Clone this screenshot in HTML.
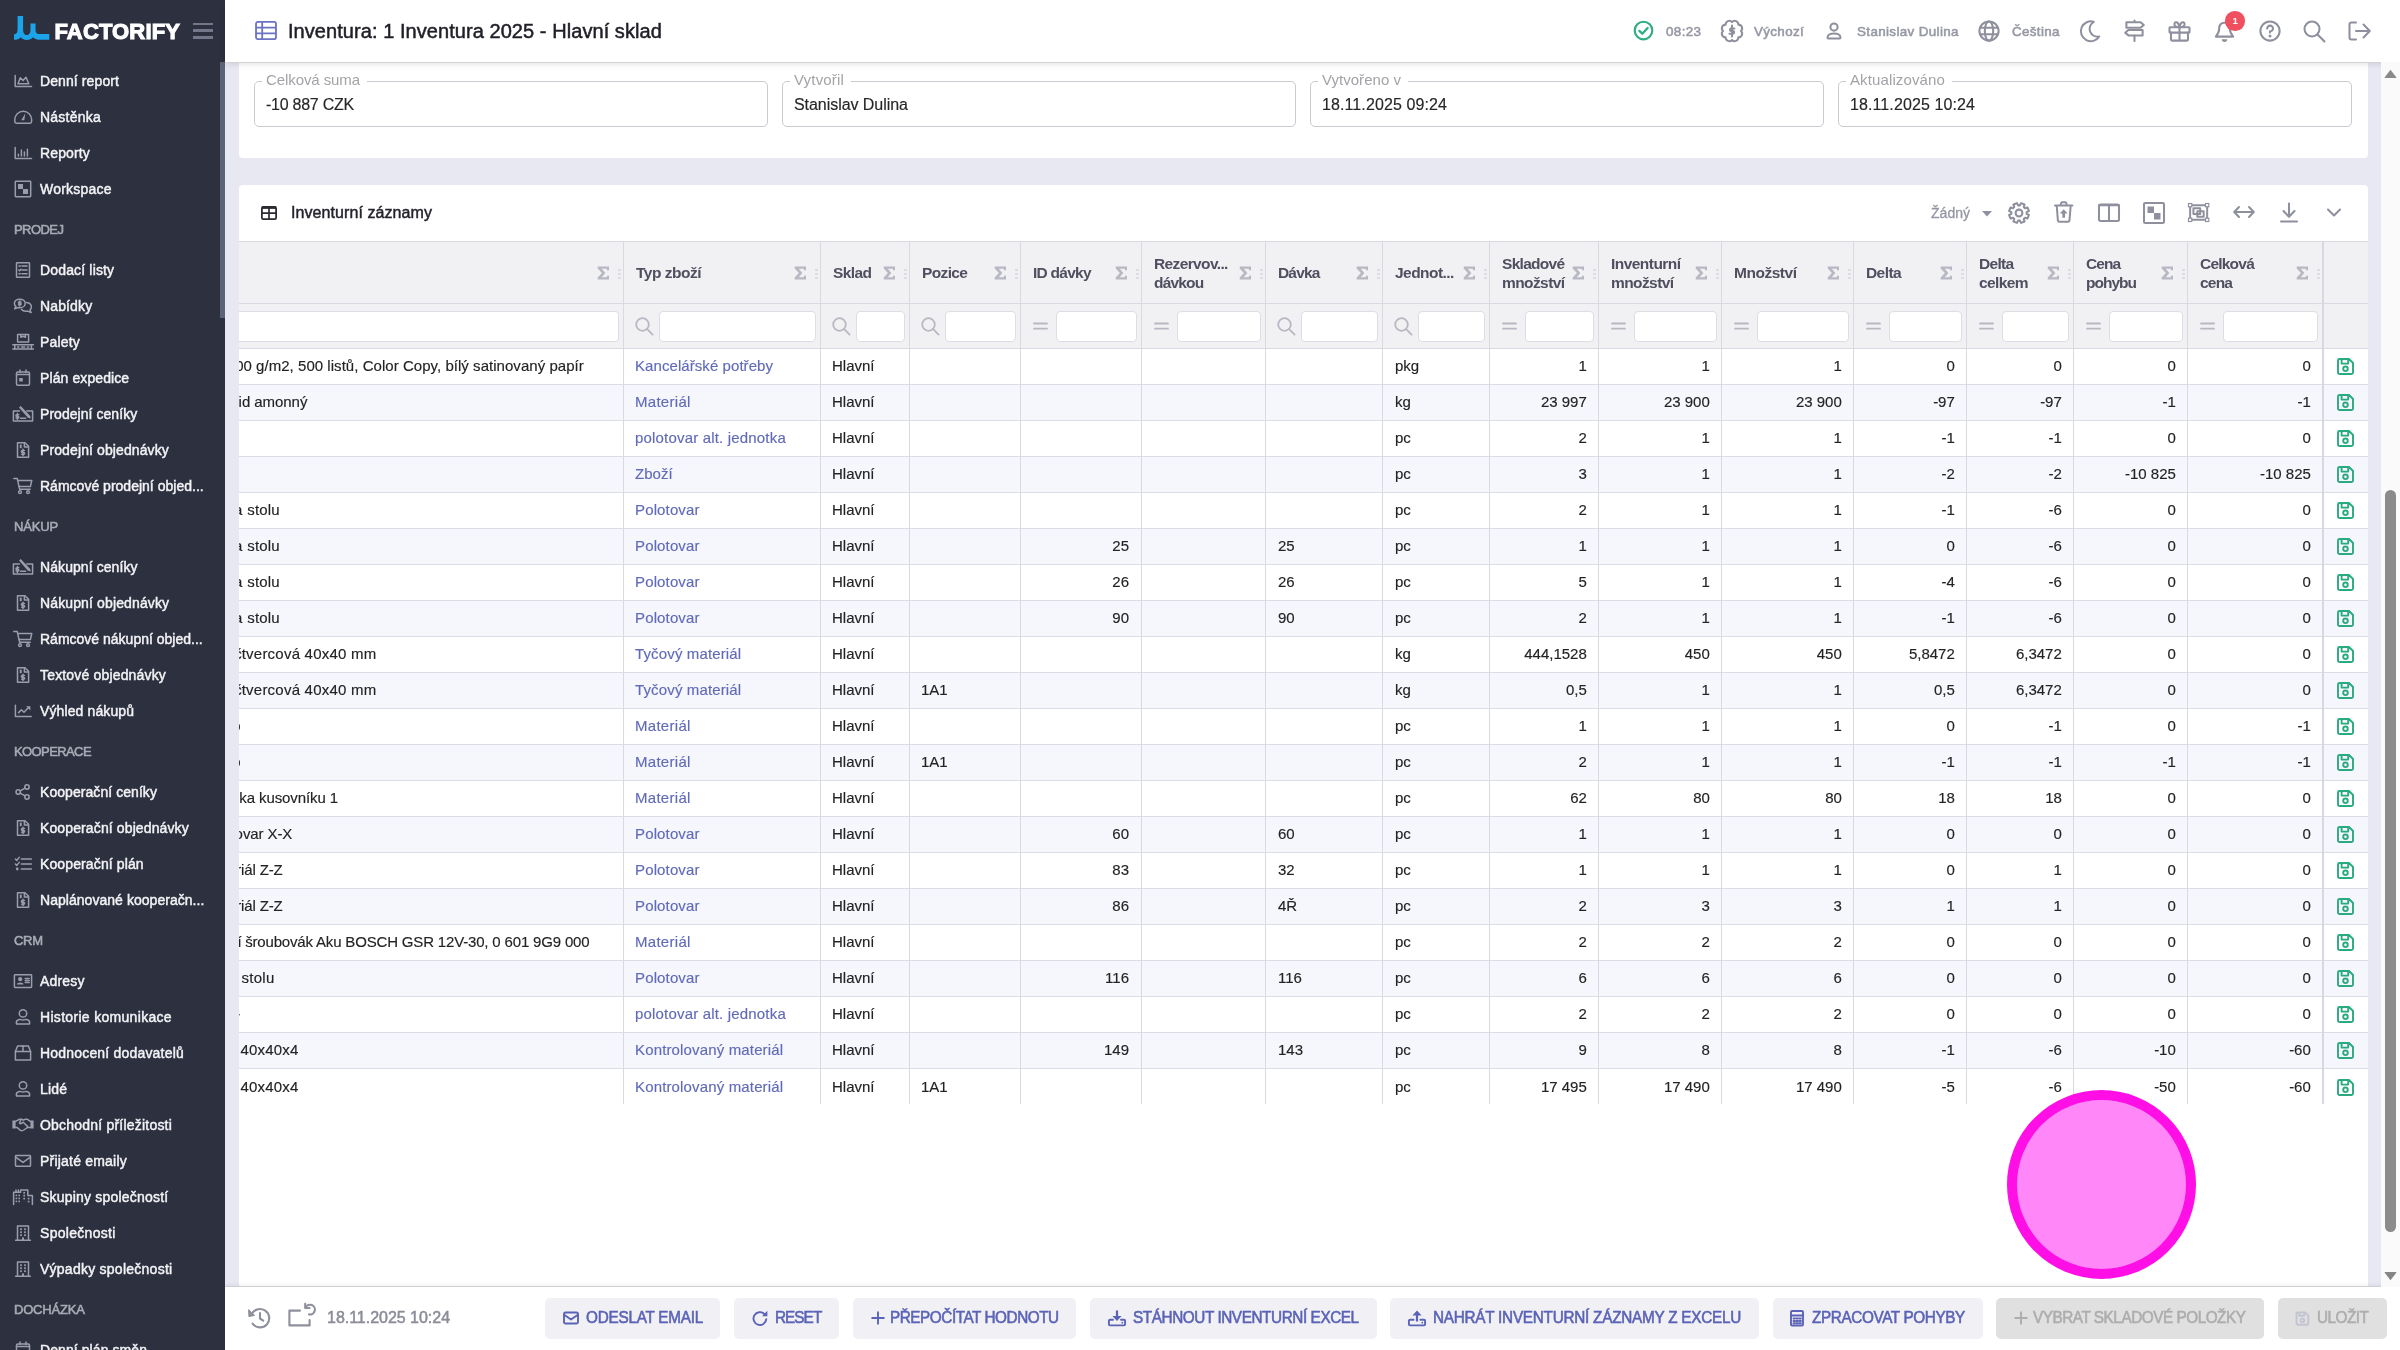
<!DOCTYPE html><html><head><meta charset="utf-8"><title>Inventura</title><style>
*{box-sizing:border-box;margin:0;padding:0}
html,body{width:2400px;height:1350px;overflow:hidden}
#w{position:absolute;left:0;top:0;width:2400px;height:1350px;will-change:transform;overflow:hidden}
body{position:relative;background:#e8e8f3;font-family:"Liberation Sans",sans-serif;color:#212121}
.a{position:absolute}
.t{position:absolute;white-space:nowrap;line-height:1}
svg{position:absolute;overflow:visible}
/* sidebar */
#sb{left:0;top:0;width:225px;height:1350px;background:#2c303f;overflow:hidden}
.si{font-size:14px;color:#f3f3f6;left:40px;-webkit-text-stroke:0.45px #f3f3f6}
.sh{font-size:13px;color:#a8aab5;left:14px;-webkit-text-stroke:0.55px #a8aab5}
.ic{stroke:#9b9dab;fill:none;stroke-width:1.5;stroke-linecap:round;stroke-linejoin:round}
/* top */
#top{left:225px;top:0;width:2175px;height:62px;background:#fff;box-shadow:0 1px 0 #d3d3d6,0 2px 6px rgba(0,0,0,.12)}
.tt{font-size:13.4px;color:#9698a4;-webkit-text-stroke:0.55px #9698a4}
.ti{stroke:#8e909e;fill:none;stroke-width:2.05;stroke-linecap:round;stroke-linejoin:round}
/* cards */
.card{background:#fff}
.fs{border:1px solid #c9c9cf;border-radius:5px;height:46px;top:81px;width:514px}
.fl{font-size:15px;color:#a3a3a8;top:72px}
.fv{font-size:16px;color:#262626;top:97px;-webkit-text-stroke:0.15px #262626}
/* table */
.hd{background:#f1f1f4}
.vl{background:#d9dae1;width:1px}
.hl{background:#dcdde4;height:1px}
.th{font-size:15.5px;color:#4f4f60;font-weight:700;letter-spacing:-0.35px;line-height:19px}
.td{font-size:15px;color:#232323;-webkit-text-stroke:0.15px #232323}
.lk{font-size:15px;color:#606ab9;-webkit-text-stroke:0.15px #606ab9}
.in{background:#fff;border:1px solid #dddde5;border-radius:4px;height:31px;top:311px}
.sg{fill:#b7b8c2}
.fi{stroke:#b7b8c2;fill:none;stroke-width:1.8;stroke-linecap:round}
/* footer */
#ft{left:225px;top:1286px;width:2175px;height:64px;background:#fff;border-top:1px solid #cfcfd4;box-shadow:0 -1px 4px rgba(0,0,0,.07)}
.bt{background:#f1f1f5;border-radius:5px;top:1298px;height:41px}
.bt.d{background:#e0e0e0}
.bl{font-size:17px;color:#5b63b7;-webkit-text-stroke:0.6px #5b63b7;top:1308.8px}
.bl.d{color:#adadad;-webkit-text-stroke:0.6px #adadad}
.bi{stroke:#5b63b7;fill:none;stroke-width:1.9;stroke-linecap:round;stroke-linejoin:round}
.bi.d{stroke:#adadad}
</style></head><body><div id="w">
<div class="a card" style="left:239px;top:62px;width:2129px;height:96px;border-radius:0 0 4px 4px"></div>
<div class="a card" style="left:239px;top:185px;width:2129px;height:1110px;border-radius:4px 4px 0 0"></div>
<div class="a fs" style="left:254px"></div>
<div class="a" style="left:262px;top:80px;width:105px;height:3px;background:#fff"></div>
<div class="t fl" style="letter-spacing:-0.09px;left:266px">Celková suma</div>
<div class="t fv" style="letter-spacing:-0.25px;left:266px">-10 887 CZK</div>
<div class="a fs" style="left:782px"></div>
<div class="a" style="left:790px;top:80px;width:61px;height:3px;background:#fff"></div>
<div class="t fl" style="letter-spacing:0.17px;left:794px">Vytvořil</div>
<div class="t fv" style="letter-spacing:-0.05px;left:794px">Stanislav Dulina</div>
<div class="a fs" style="left:1310px"></div>
<div class="a" style="left:1318px;top:80px;width:90px;height:3px;background:#fff"></div>
<div class="t fl" style="letter-spacing:0.03px;left:1322px">Vytvořeno v</div>
<div class="t fv" style="letter-spacing:0.10px;left:1322px">18.11.2025 09:24</div>
<div class="a fs" style="left:1838px"></div>
<div class="a" style="left:1846px;top:80px;width:106px;height:3px;background:#fff"></div>
<div class="t fl" style="letter-spacing:0.12px;left:1850px">Aktualizováno</div>
<div class="t fv" style="letter-spacing:0.10px;left:1850px">18.11.2025 10:24</div>
<svg style="left:261px;top:206px" width="16" height="14" viewBox="0 0 16 14"><rect x="0.9" y="0.9" width="14.2" height="12.2" rx="1.3" fill="none" stroke="#2b2b33" stroke-width="1.8"/><path d="M1 1.6H15" stroke="#2b2b33" stroke-width="2.6" fill="none"/><path d="M1 7.2H15M8 1V13" stroke="#2b2b33" stroke-width="1.7" fill="none"/></svg>
<div class="t" style="letter-spacing:0.08px;left:291px;top:205px;font-size:16px;color:#23232b;-webkit-text-stroke:0.45px #23232b">Inventurní záznamy</div>
<div class="a hd" style="left:239px;top:241px;width:2129px;height:107px"></div>
<div class="a" style="left:239px;top:385px;width:2129px;height:35px;background:#f6f7fc"></div>
<div class="a" style="left:239px;top:457px;width:2129px;height:35px;background:#f6f7fc"></div>
<div class="a" style="left:239px;top:529px;width:2129px;height:35px;background:#f6f7fc"></div>
<div class="a" style="left:239px;top:601px;width:2129px;height:35px;background:#f6f7fc"></div>
<div class="a" style="left:239px;top:673px;width:2129px;height:35px;background:#f6f7fc"></div>
<div class="a" style="left:239px;top:745px;width:2129px;height:35px;background:#f6f7fc"></div>
<div class="a" style="left:239px;top:817px;width:2129px;height:35px;background:#f6f7fc"></div>
<div class="a" style="left:239px;top:889px;width:2129px;height:35px;background:#f6f7fc"></div>
<div class="a" style="left:239px;top:961px;width:2129px;height:35px;background:#f6f7fc"></div>
<div class="a" style="left:239px;top:1033px;width:2129px;height:35px;background:#f6f7fc"></div>
<div class="a hl" style="left:239px;top:241px;width:2129px;background:#d9dae1"></div>
<div class="a hl" style="left:239px;top:303px;width:2129px;background:#d9dae1"></div>
<div class="a hl" style="left:239px;top:348px;width:2129px;background:#d9dae1"></div>
<div class="a hl" style="left:239px;top:384px;width:2129px"></div>
<div class="a hl" style="left:239px;top:420px;width:2129px"></div>
<div class="a hl" style="left:239px;top:456px;width:2129px"></div>
<div class="a hl" style="left:239px;top:492px;width:2129px"></div>
<div class="a hl" style="left:239px;top:528px;width:2129px"></div>
<div class="a hl" style="left:239px;top:564px;width:2129px"></div>
<div class="a hl" style="left:239px;top:600px;width:2129px"></div>
<div class="a hl" style="left:239px;top:636px;width:2129px"></div>
<div class="a hl" style="left:239px;top:672px;width:2129px"></div>
<div class="a hl" style="left:239px;top:708px;width:2129px"></div>
<div class="a hl" style="left:239px;top:744px;width:2129px"></div>
<div class="a hl" style="left:239px;top:780px;width:2129px"></div>
<div class="a hl" style="left:239px;top:816px;width:2129px"></div>
<div class="a hl" style="left:239px;top:852px;width:2129px"></div>
<div class="a hl" style="left:239px;top:888px;width:2129px"></div>
<div class="a hl" style="left:239px;top:924px;width:2129px"></div>
<div class="a hl" style="left:239px;top:960px;width:2129px"></div>
<div class="a hl" style="left:239px;top:996px;width:2129px"></div>
<div class="a hl" style="left:239px;top:1032px;width:2129px"></div>
<div class="a hl" style="left:239px;top:1068px;width:2129px"></div>
<div class="a vl" style="left:623px;top:242px;height:862px"></div>
<div class="a vl" style="left:820px;top:242px;height:862px"></div>
<div class="a vl" style="left:909px;top:242px;height:862px"></div>
<div class="a vl" style="left:1020px;top:242px;height:862px"></div>
<div class="a vl" style="left:1141px;top:242px;height:862px"></div>
<div class="a vl" style="left:1265px;top:242px;height:862px"></div>
<div class="a vl" style="left:1382px;top:242px;height:862px"></div>
<div class="a vl" style="left:1489px;top:242px;height:862px"></div>
<div class="a vl" style="left:1598px;top:242px;height:862px"></div>
<div class="a vl" style="left:1721px;top:242px;height:862px"></div>
<div class="a vl" style="left:1853px;top:242px;height:862px"></div>
<div class="a vl" style="left:1966px;top:242px;height:862px"></div>
<div class="a vl" style="left:2073px;top:242px;height:862px"></div>
<div class="a vl" style="left:2187px;top:242px;height:862px"></div>
<div class="a vl" style="left:2322px;top:242px;height:862px;width:2px;background:#d8d9e0"></div>
<svg style="left:597px;top:266px" width="13" height="14" viewBox="0 0 13 14"><path d="M0.7 0.4H12V4.2H9.9V2.7H4.7L8.4 7L4.7 11.3H9.9V9.8H12V13.6H0.7V11.6L4.9 7L0.7 2.4Z" fill="#b7b8c2"/></svg>
<div class="a" style="left:618px;top:269px;width:3px;height:2px;background:#dcdde3"></div>
<div class="a" style="left:618px;top:273px;width:3px;height:2px;background:#dcdde3"></div>
<div class="a" style="left:618px;top:277px;width:3px;height:2px;background:#dcdde3"></div>
<div class="a in" style="left:239px;width:380px;border-left:none;border-radius:0 4px 4px 0"></div>
<svg style="left:794px;top:266px" width="13" height="14" viewBox="0 0 13 14"><path d="M0.7 0.4H12V4.2H9.9V2.7H4.7L8.4 7L4.7 11.3H9.9V9.8H12V13.6H0.7V11.6L4.9 7L0.7 2.4Z" fill="#b7b8c2"/></svg>
<div class="a" style="left:815px;top:269px;width:3px;height:2px;background:#dcdde3"></div>
<div class="a" style="left:815px;top:273px;width:3px;height:2px;background:#dcdde3"></div>
<div class="a" style="left:815px;top:277px;width:3px;height:2px;background:#dcdde3"></div>
<div class="t th" style="letter-spacing:-0.50px;left:636px;top:262.5px">Typ zboží</div>
<svg style="left:635px;top:317px" width="19" height="19" viewBox="0 0 19 19"><circle class="fi" cx="7.5" cy="7.5" r="6.3"/><path class="fi" d="M12.2 12.2L17.6 17.6"/></svg>
<div class="a in" style="left:659px;width:157px"></div>
<svg style="left:883px;top:266px" width="13" height="14" viewBox="0 0 13 14"><path d="M0.7 0.4H12V4.2H9.9V2.7H4.7L8.4 7L4.7 11.3H9.9V9.8H12V13.6H0.7V11.6L4.9 7L0.7 2.4Z" fill="#b7b8c2"/></svg>
<div class="a" style="left:904px;top:269px;width:3px;height:2px;background:#dcdde3"></div>
<div class="a" style="left:904px;top:273px;width:3px;height:2px;background:#dcdde3"></div>
<div class="a" style="left:904px;top:277px;width:3px;height:2px;background:#dcdde3"></div>
<div class="t th" style="letter-spacing:-0.61px;left:833px;top:262.5px">Sklad</div>
<svg style="left:832px;top:317px" width="19" height="19" viewBox="0 0 19 19"><circle class="fi" cx="7.5" cy="7.5" r="6.3"/><path class="fi" d="M12.2 12.2L17.6 17.6"/></svg>
<div class="a in" style="left:856px;width:49px"></div>
<svg style="left:994px;top:266px" width="13" height="14" viewBox="0 0 13 14"><path d="M0.7 0.4H12V4.2H9.9V2.7H4.7L8.4 7L4.7 11.3H9.9V9.8H12V13.6H0.7V11.6L4.9 7L0.7 2.4Z" fill="#b7b8c2"/></svg>
<div class="a" style="left:1015px;top:269px;width:3px;height:2px;background:#dcdde3"></div>
<div class="a" style="left:1015px;top:273px;width:3px;height:2px;background:#dcdde3"></div>
<div class="a" style="left:1015px;top:277px;width:3px;height:2px;background:#dcdde3"></div>
<div class="t th" style="letter-spacing:-0.64px;left:922px;top:262.5px">Pozice</div>
<svg style="left:921px;top:317px" width="19" height="19" viewBox="0 0 19 19"><circle class="fi" cx="7.5" cy="7.5" r="6.3"/><path class="fi" d="M12.2 12.2L17.6 17.6"/></svg>
<div class="a in" style="left:945px;width:71px"></div>
<svg style="left:1115px;top:266px" width="13" height="14" viewBox="0 0 13 14"><path d="M0.7 0.4H12V4.2H9.9V2.7H4.7L8.4 7L4.7 11.3H9.9V9.8H12V13.6H0.7V11.6L4.9 7L0.7 2.4Z" fill="#b7b8c2"/></svg>
<div class="a" style="left:1136px;top:269px;width:3px;height:2px;background:#dcdde3"></div>
<div class="a" style="left:1136px;top:273px;width:3px;height:2px;background:#dcdde3"></div>
<div class="a" style="left:1136px;top:277px;width:3px;height:2px;background:#dcdde3"></div>
<div class="t th" style="letter-spacing:-0.75px;left:1033px;top:262.5px">ID dávky</div>
<svg style="left:1033px;top:320px" width="15" height="12" viewBox="0 0 15 12"><path class="fi" stroke-width="2" d="M1 3.5H14M1 8.7H14"/></svg>
<div class="a in" style="left:1056px;width:81px"></div>
<svg style="left:1239px;top:266px" width="13" height="14" viewBox="0 0 13 14"><path d="M0.7 0.4H12V4.2H9.9V2.7H4.7L8.4 7L4.7 11.3H9.9V9.8H12V13.6H0.7V11.6L4.9 7L0.7 2.4Z" fill="#b7b8c2"/></svg>
<div class="a" style="left:1260px;top:269px;width:3px;height:2px;background:#dcdde3"></div>
<div class="a" style="left:1260px;top:273px;width:3px;height:2px;background:#dcdde3"></div>
<div class="a" style="left:1260px;top:277px;width:3px;height:2px;background:#dcdde3"></div>
<div class="t th" style="letter-spacing:-0.63px;left:1154px;top:254.1px">Rezervov...</div>
<div class="t th" style="letter-spacing:-0.83px;left:1154px;top:273.1px">dávkou</div>
<svg style="left:1154px;top:320px" width="15" height="12" viewBox="0 0 15 12"><path class="fi" stroke-width="2" d="M1 3.5H14M1 8.7H14"/></svg>
<div class="a in" style="left:1177px;width:84px"></div>
<svg style="left:1356px;top:266px" width="13" height="14" viewBox="0 0 13 14"><path d="M0.7 0.4H12V4.2H9.9V2.7H4.7L8.4 7L4.7 11.3H9.9V9.8H12V13.6H0.7V11.6L4.9 7L0.7 2.4Z" fill="#b7b8c2"/></svg>
<div class="a" style="left:1377px;top:269px;width:3px;height:2px;background:#dcdde3"></div>
<div class="a" style="left:1377px;top:273px;width:3px;height:2px;background:#dcdde3"></div>
<div class="a" style="left:1377px;top:277px;width:3px;height:2px;background:#dcdde3"></div>
<div class="t th" style="letter-spacing:-0.84px;left:1278px;top:262.5px">Dávka</div>
<svg style="left:1277px;top:317px" width="19" height="19" viewBox="0 0 19 19"><circle class="fi" cx="7.5" cy="7.5" r="6.3"/><path class="fi" d="M12.2 12.2L17.6 17.6"/></svg>
<div class="a in" style="left:1301px;width:77px"></div>
<svg style="left:1463px;top:266px" width="13" height="14" viewBox="0 0 13 14"><path d="M0.7 0.4H12V4.2H9.9V2.7H4.7L8.4 7L4.7 11.3H9.9V9.8H12V13.6H0.7V11.6L4.9 7L0.7 2.4Z" fill="#b7b8c2"/></svg>
<div class="a" style="left:1484px;top:269px;width:3px;height:2px;background:#dcdde3"></div>
<div class="a" style="left:1484px;top:273px;width:3px;height:2px;background:#dcdde3"></div>
<div class="a" style="left:1484px;top:277px;width:3px;height:2px;background:#dcdde3"></div>
<div class="t th" style="letter-spacing:-0.55px;left:1395px;top:262.5px">Jednot...</div>
<svg style="left:1394px;top:317px" width="19" height="19" viewBox="0 0 19 19"><circle class="fi" cx="7.5" cy="7.5" r="6.3"/><path class="fi" d="M12.2 12.2L17.6 17.6"/></svg>
<div class="a in" style="left:1418px;width:67px"></div>
<svg style="left:1572px;top:266px" width="13" height="14" viewBox="0 0 13 14"><path d="M0.7 0.4H12V4.2H9.9V2.7H4.7L8.4 7L4.7 11.3H9.9V9.8H12V13.6H0.7V11.6L4.9 7L0.7 2.4Z" fill="#b7b8c2"/></svg>
<div class="a" style="left:1593px;top:269px;width:3px;height:2px;background:#dcdde3"></div>
<div class="a" style="left:1593px;top:273px;width:3px;height:2px;background:#dcdde3"></div>
<div class="a" style="left:1593px;top:277px;width:3px;height:2px;background:#dcdde3"></div>
<div class="t th" style="letter-spacing:-0.70px;left:1502px;top:254.1px">Skladové</div>
<div class="t th" style="letter-spacing:-0.59px;left:1502px;top:273.1px">množství</div>
<svg style="left:1502px;top:320px" width="15" height="12" viewBox="0 0 15 12"><path class="fi" stroke-width="2" d="M1 3.5H14M1 8.7H14"/></svg>
<div class="a in" style="left:1525px;width:69px"></div>
<svg style="left:1695px;top:266px" width="13" height="14" viewBox="0 0 13 14"><path d="M0.7 0.4H12V4.2H9.9V2.7H4.7L8.4 7L4.7 11.3H9.9V9.8H12V13.6H0.7V11.6L4.9 7L0.7 2.4Z" fill="#b7b8c2"/></svg>
<div class="a" style="left:1716px;top:269px;width:3px;height:2px;background:#dcdde3"></div>
<div class="a" style="left:1716px;top:273px;width:3px;height:2px;background:#dcdde3"></div>
<div class="a" style="left:1716px;top:277px;width:3px;height:2px;background:#dcdde3"></div>
<div class="t th" style="letter-spacing:-0.54px;left:1611px;top:254.1px">Inventurní</div>
<div class="t th" style="letter-spacing:-0.59px;left:1611px;top:273.1px">množství</div>
<svg style="left:1611px;top:320px" width="15" height="12" viewBox="0 0 15 12"><path class="fi" stroke-width="2" d="M1 3.5H14M1 8.7H14"/></svg>
<div class="a in" style="left:1634px;width:83px"></div>
<svg style="left:1827px;top:266px" width="13" height="14" viewBox="0 0 13 14"><path d="M0.7 0.4H12V4.2H9.9V2.7H4.7L8.4 7L4.7 11.3H9.9V9.8H12V13.6H0.7V11.6L4.9 7L0.7 2.4Z" fill="#b7b8c2"/></svg>
<div class="a" style="left:1848px;top:269px;width:3px;height:2px;background:#dcdde3"></div>
<div class="a" style="left:1848px;top:273px;width:3px;height:2px;background:#dcdde3"></div>
<div class="a" style="left:1848px;top:277px;width:3px;height:2px;background:#dcdde3"></div>
<div class="t th" style="letter-spacing:-0.48px;left:1734px;top:262.5px">Množství</div>
<svg style="left:1734px;top:320px" width="15" height="12" viewBox="0 0 15 12"><path class="fi" stroke-width="2" d="M1 3.5H14M1 8.7H14"/></svg>
<div class="a in" style="left:1757px;width:92px"></div>
<svg style="left:1940px;top:266px" width="13" height="14" viewBox="0 0 13 14"><path d="M0.7 0.4H12V4.2H9.9V2.7H4.7L8.4 7L4.7 11.3H9.9V9.8H12V13.6H0.7V11.6L4.9 7L0.7 2.4Z" fill="#b7b8c2"/></svg>
<div class="a" style="left:1961px;top:269px;width:3px;height:2px;background:#dcdde3"></div>
<div class="a" style="left:1961px;top:273px;width:3px;height:2px;background:#dcdde3"></div>
<div class="a" style="left:1961px;top:277px;width:3px;height:2px;background:#dcdde3"></div>
<div class="t th" style="letter-spacing:-0.58px;left:1866px;top:262.5px">Delta</div>
<svg style="left:1866px;top:320px" width="15" height="12" viewBox="0 0 15 12"><path class="fi" stroke-width="2" d="M1 3.5H14M1 8.7H14"/></svg>
<div class="a in" style="left:1889px;width:73px"></div>
<svg style="left:2047px;top:266px" width="13" height="14" viewBox="0 0 13 14"><path d="M0.7 0.4H12V4.2H9.9V2.7H4.7L8.4 7L4.7 11.3H9.9V9.8H12V13.6H0.7V11.6L4.9 7L0.7 2.4Z" fill="#b7b8c2"/></svg>
<div class="a" style="left:2068px;top:269px;width:3px;height:2px;background:#dcdde3"></div>
<div class="a" style="left:2068px;top:273px;width:3px;height:2px;background:#dcdde3"></div>
<div class="a" style="left:2068px;top:277px;width:3px;height:2px;background:#dcdde3"></div>
<div class="t th" style="letter-spacing:-0.68px;left:1979px;top:254.1px">Delta</div>
<div class="t th" style="letter-spacing:-0.60px;left:1979px;top:273.1px">celkem</div>
<svg style="left:1979px;top:320px" width="15" height="12" viewBox="0 0 15 12"><path class="fi" stroke-width="2" d="M1 3.5H14M1 8.7H14"/></svg>
<div class="a in" style="left:2002px;width:67px"></div>
<svg style="left:2161px;top:266px" width="13" height="14" viewBox="0 0 13 14"><path d="M0.7 0.4H12V4.2H9.9V2.7H4.7L8.4 7L4.7 11.3H9.9V9.8H12V13.6H0.7V11.6L4.9 7L0.7 2.4Z" fill="#b7b8c2"/></svg>
<div class="a" style="left:2182px;top:269px;width:3px;height:2px;background:#dcdde3"></div>
<div class="a" style="left:2182px;top:273px;width:3px;height:2px;background:#dcdde3"></div>
<div class="a" style="left:2182px;top:277px;width:3px;height:2px;background:#dcdde3"></div>
<div class="t th" style="letter-spacing:-0.93px;left:2086px;top:254.1px">Cena</div>
<div class="t th" style="letter-spacing:-1.00px;left:2086px;top:273.1px">pohybu</div>
<svg style="left:2086px;top:320px" width="15" height="12" viewBox="0 0 15 12"><path class="fi" stroke-width="2" d="M1 3.5H14M1 8.7H14"/></svg>
<div class="a in" style="left:2109px;width:74px"></div>
<svg style="left:2296px;top:266px" width="13" height="14" viewBox="0 0 13 14"><path d="M0.7 0.4H12V4.2H9.9V2.7H4.7L8.4 7L4.7 11.3H9.9V9.8H12V13.6H0.7V11.6L4.9 7L0.7 2.4Z" fill="#b7b8c2"/></svg>
<div class="a" style="left:2317px;top:269px;width:3px;height:2px;background:#dcdde3"></div>
<div class="a" style="left:2317px;top:273px;width:3px;height:2px;background:#dcdde3"></div>
<div class="a" style="left:2317px;top:277px;width:3px;height:2px;background:#dcdde3"></div>
<div class="t th" style="letter-spacing:-0.78px;left:2200px;top:254.1px">Celková</div>
<div class="t th" style="letter-spacing:-0.78px;left:2200px;top:273.1px">cena</div>
<svg style="left:2200px;top:320px" width="15" height="12" viewBox="0 0 15 12"><path class="fi" stroke-width="2" d="M1 3.5H14M1 8.7H14"/></svg>
<div class="a in" style="left:2223px;width:95px"></div>
<div class="a" style="left:239px;top:349px;width:384px;height:760px;overflow:hidden">
<div class="t td" style="right:379.5px;top:9px">0</div>
<div class="t td" style="letter-spacing:0.04px;left:4.5px;top:9px">0 g/m2, 500 listů, Color Copy, bílý satinovaný papír</div>
<div class="t td" style="letter-spacing:-0.05px;left:-0.4000000000000057px;top:45px">id amonný</div>
<div class="t td" style="right:380.7px;top:153px">a</div>
<div class="t td" style="letter-spacing:0.18px;left:8.300000000000011px;top:153px">stolu</div>
<div class="t td" style="right:380.7px;top:189px">a</div>
<div class="t td" style="letter-spacing:0.18px;left:8.300000000000011px;top:189px">stolu</div>
<div class="t td" style="right:380.7px;top:225px">a</div>
<div class="t td" style="letter-spacing:0.18px;left:8.300000000000011px;top:225px">stolu</div>
<div class="t td" style="right:380.7px;top:261px">a</div>
<div class="t td" style="letter-spacing:0.18px;left:8.300000000000011px;top:261px">stolu</div>
<div class="t td" style="right:381.3px;top:297px">č</div>
<div class="t td" style="letter-spacing:0.23px;left:2.6999999999999886px;top:297px">tvercová 40x40 mm</div>
<div class="t td" style="right:381.3px;top:333px">č</div>
<div class="t td" style="letter-spacing:0.23px;left:2.6999999999999886px;top:333px">tvercová 40x40 mm</div>
<div class="t td" style="right:382.5px;top:369px">o</div>
<div class="t td" style="right:382.5px;top:405px">o</div>
<div class="t td" style="letter-spacing:-0.10px;left:0.30000000000001137px;top:441px">ka kusovníku 1</div>
<div class="t td" style="right:380.1px;top:477px">o</div>
<div class="t td" style="letter-spacing:-0.10px;left:3.9000000000000057px;top:477px">var X-X</div>
<div class="t td" style="right:381.7px;top:513px">r</div>
<div class="t td" style="letter-spacing:-0.16px;left:2.0999999999999943px;top:513px">iál Z-Z</div>
<div class="t td" style="right:381.7px;top:549px">r</div>
<div class="t td" style="letter-spacing:-0.16px;left:2.0999999999999943px;top:549px">iál Z-Z</div>
<div class="t td" style="right:381.4px;top:585px">í</div>
<div class="t td" style="letter-spacing:-0.17px;left:6.199999999999989px;top:585px">šroubovák Aku BOSCH GSR 12V-30, 0 601 9G9 000</div>
<div class="t td" style="letter-spacing:0.30px;left:2.4000000000000057px;top:621px">stolu</div>
<div class="t td" style="right:382.8px;top:657px">-</div>
<div class="t td" style="letter-spacing:0.20px;left:1.4000000000000057px;top:693px">40x40x4</div>
<div class="t td" style="letter-spacing:0.20px;left:1.4000000000000057px;top:730px">40x40x4</div>
</div>
<div class="t lk" style="letter-spacing:0.07px;left:635px;top:358px">Kancelářské potřeby</div>
<div class="t td" style="left:832px;top:358px">Hlavní</div>
<div class="t td" style="left:1395px;top:358px">pkg</div>
<div class="t td" style="right:813.2px;top:358px">1</div>
<div class="t td" style="right:690.2px;top:358px">1</div>
<div class="t td" style="right:558.2px;top:358px">1</div>
<div class="t td" style="right:445.20000000000005px;top:358px">0</div>
<div class="t td" style="right:338.1999999999998px;top:358px">0</div>
<div class="t td" style="right:224.19999999999982px;top:358px">0</div>
<div class="t td" style="right:89.19999999999982px;top:358px">0</div>
<svg style="left:2337px;top:358px" width="17" height="17" viewBox="0 0 17 17"><path d="M1 2.5A1.5 1.5 0 0 1 2.5 1H12L16 5V14.5A1.5 1.5 0 0 1 14.5 16H2.5A1.5 1.5 0 0 1 1 14.5Z M4.6 1V5.6H11.2V1" fill="none" stroke="#2ba97f" stroke-width="1.9" stroke-linejoin="round"/><circle cx="8.5" cy="10.8" r="2.3" fill="none" stroke="#2ba97f" stroke-width="1.9"/></svg>
<div class="t lk" style="letter-spacing:0.29px;left:635px;top:394px">Materiál</div>
<div class="t td" style="left:832px;top:394px">Hlavní</div>
<div class="t td" style="left:1395px;top:394px">kg</div>
<div class="t td" style="right:813.2px;top:394px">23 997</div>
<div class="t td" style="right:690.2px;top:394px">23 900</div>
<div class="t td" style="right:558.2px;top:394px">23 900</div>
<div class="t td" style="right:445.20000000000005px;top:394px">-97</div>
<div class="t td" style="right:338.1999999999998px;top:394px">-97</div>
<div class="t td" style="right:224.19999999999982px;top:394px">-1</div>
<div class="t td" style="right:89.19999999999982px;top:394px">-1</div>
<svg style="left:2337px;top:394px" width="17" height="17" viewBox="0 0 17 17"><path d="M1 2.5A1.5 1.5 0 0 1 2.5 1H12L16 5V14.5A1.5 1.5 0 0 1 14.5 16H2.5A1.5 1.5 0 0 1 1 14.5Z M4.6 1V5.6H11.2V1" fill="none" stroke="#2ba97f" stroke-width="1.9" stroke-linejoin="round"/><circle cx="8.5" cy="10.8" r="2.3" fill="none" stroke="#2ba97f" stroke-width="1.9"/></svg>
<div class="t lk" style="letter-spacing:0.18px;left:635px;top:430px">polotovar alt. jednotka</div>
<div class="t td" style="left:832px;top:430px">Hlavní</div>
<div class="t td" style="left:1395px;top:430px">pc</div>
<div class="t td" style="right:813.2px;top:430px">2</div>
<div class="t td" style="right:690.2px;top:430px">1</div>
<div class="t td" style="right:558.2px;top:430px">1</div>
<div class="t td" style="right:445.20000000000005px;top:430px">-1</div>
<div class="t td" style="right:338.1999999999998px;top:430px">-1</div>
<div class="t td" style="right:224.19999999999982px;top:430px">0</div>
<div class="t td" style="right:89.19999999999982px;top:430px">0</div>
<svg style="left:2337px;top:430px" width="17" height="17" viewBox="0 0 17 17"><path d="M1 2.5A1.5 1.5 0 0 1 2.5 1H12L16 5V14.5A1.5 1.5 0 0 1 14.5 16H2.5A1.5 1.5 0 0 1 1 14.5Z M4.6 1V5.6H11.2V1" fill="none" stroke="#2ba97f" stroke-width="1.9" stroke-linejoin="round"/><circle cx="8.5" cy="10.8" r="2.3" fill="none" stroke="#2ba97f" stroke-width="1.9"/></svg>
<div class="t lk" style="letter-spacing:0.02px;left:635px;top:466px">Zboží</div>
<div class="t td" style="left:832px;top:466px">Hlavní</div>
<div class="t td" style="left:1395px;top:466px">pc</div>
<div class="t td" style="right:813.2px;top:466px">3</div>
<div class="t td" style="right:690.2px;top:466px">1</div>
<div class="t td" style="right:558.2px;top:466px">1</div>
<div class="t td" style="right:445.20000000000005px;top:466px">-2</div>
<div class="t td" style="right:338.1999999999998px;top:466px">-2</div>
<div class="t td" style="right:224.19999999999982px;top:466px">-10 825</div>
<div class="t td" style="right:89.19999999999982px;top:466px">-10 825</div>
<svg style="left:2337px;top:466px" width="17" height="17" viewBox="0 0 17 17"><path d="M1 2.5A1.5 1.5 0 0 1 2.5 1H12L16 5V14.5A1.5 1.5 0 0 1 14.5 16H2.5A1.5 1.5 0 0 1 1 14.5Z M4.6 1V5.6H11.2V1" fill="none" stroke="#2ba97f" stroke-width="1.9" stroke-linejoin="round"/><circle cx="8.5" cy="10.8" r="2.3" fill="none" stroke="#2ba97f" stroke-width="1.9"/></svg>
<div class="t lk" style="letter-spacing:0.14px;left:635px;top:502px">Polotovar</div>
<div class="t td" style="left:832px;top:502px">Hlavní</div>
<div class="t td" style="left:1395px;top:502px">pc</div>
<div class="t td" style="right:813.2px;top:502px">2</div>
<div class="t td" style="right:690.2px;top:502px">1</div>
<div class="t td" style="right:558.2px;top:502px">1</div>
<div class="t td" style="right:445.20000000000005px;top:502px">-1</div>
<div class="t td" style="right:338.1999999999998px;top:502px">-6</div>
<div class="t td" style="right:224.19999999999982px;top:502px">0</div>
<div class="t td" style="right:89.19999999999982px;top:502px">0</div>
<svg style="left:2337px;top:502px" width="17" height="17" viewBox="0 0 17 17"><path d="M1 2.5A1.5 1.5 0 0 1 2.5 1H12L16 5V14.5A1.5 1.5 0 0 1 14.5 16H2.5A1.5 1.5 0 0 1 1 14.5Z M4.6 1V5.6H11.2V1" fill="none" stroke="#2ba97f" stroke-width="1.9" stroke-linejoin="round"/><circle cx="8.5" cy="10.8" r="2.3" fill="none" stroke="#2ba97f" stroke-width="1.9"/></svg>
<div class="t lk" style="letter-spacing:0.14px;left:635px;top:538px">Polotovar</div>
<div class="t td" style="left:832px;top:538px">Hlavní</div>
<div class="t td" style="right:1271px;top:538px">25</div>
<div class="t td" style="left:1278px;top:538px">25</div>
<div class="t td" style="left:1395px;top:538px">pc</div>
<div class="t td" style="right:813.2px;top:538px">1</div>
<div class="t td" style="right:690.2px;top:538px">1</div>
<div class="t td" style="right:558.2px;top:538px">1</div>
<div class="t td" style="right:445.20000000000005px;top:538px">0</div>
<div class="t td" style="right:338.1999999999998px;top:538px">-6</div>
<div class="t td" style="right:224.19999999999982px;top:538px">0</div>
<div class="t td" style="right:89.19999999999982px;top:538px">0</div>
<svg style="left:2337px;top:538px" width="17" height="17" viewBox="0 0 17 17"><path d="M1 2.5A1.5 1.5 0 0 1 2.5 1H12L16 5V14.5A1.5 1.5 0 0 1 14.5 16H2.5A1.5 1.5 0 0 1 1 14.5Z M4.6 1V5.6H11.2V1" fill="none" stroke="#2ba97f" stroke-width="1.9" stroke-linejoin="round"/><circle cx="8.5" cy="10.8" r="2.3" fill="none" stroke="#2ba97f" stroke-width="1.9"/></svg>
<div class="t lk" style="letter-spacing:0.14px;left:635px;top:574px">Polotovar</div>
<div class="t td" style="left:832px;top:574px">Hlavní</div>
<div class="t td" style="right:1271px;top:574px">26</div>
<div class="t td" style="left:1278px;top:574px">26</div>
<div class="t td" style="left:1395px;top:574px">pc</div>
<div class="t td" style="right:813.2px;top:574px">5</div>
<div class="t td" style="right:690.2px;top:574px">1</div>
<div class="t td" style="right:558.2px;top:574px">1</div>
<div class="t td" style="right:445.20000000000005px;top:574px">-4</div>
<div class="t td" style="right:338.1999999999998px;top:574px">-6</div>
<div class="t td" style="right:224.19999999999982px;top:574px">0</div>
<div class="t td" style="right:89.19999999999982px;top:574px">0</div>
<svg style="left:2337px;top:574px" width="17" height="17" viewBox="0 0 17 17"><path d="M1 2.5A1.5 1.5 0 0 1 2.5 1H12L16 5V14.5A1.5 1.5 0 0 1 14.5 16H2.5A1.5 1.5 0 0 1 1 14.5Z M4.6 1V5.6H11.2V1" fill="none" stroke="#2ba97f" stroke-width="1.9" stroke-linejoin="round"/><circle cx="8.5" cy="10.8" r="2.3" fill="none" stroke="#2ba97f" stroke-width="1.9"/></svg>
<div class="t lk" style="letter-spacing:0.14px;left:635px;top:610px">Polotovar</div>
<div class="t td" style="left:832px;top:610px">Hlavní</div>
<div class="t td" style="right:1271px;top:610px">90</div>
<div class="t td" style="left:1278px;top:610px">90</div>
<div class="t td" style="left:1395px;top:610px">pc</div>
<div class="t td" style="right:813.2px;top:610px">2</div>
<div class="t td" style="right:690.2px;top:610px">1</div>
<div class="t td" style="right:558.2px;top:610px">1</div>
<div class="t td" style="right:445.20000000000005px;top:610px">-1</div>
<div class="t td" style="right:338.1999999999998px;top:610px">-6</div>
<div class="t td" style="right:224.19999999999982px;top:610px">0</div>
<div class="t td" style="right:89.19999999999982px;top:610px">0</div>
<svg style="left:2337px;top:610px" width="17" height="17" viewBox="0 0 17 17"><path d="M1 2.5A1.5 1.5 0 0 1 2.5 1H12L16 5V14.5A1.5 1.5 0 0 1 14.5 16H2.5A1.5 1.5 0 0 1 1 14.5Z M4.6 1V5.6H11.2V1" fill="none" stroke="#2ba97f" stroke-width="1.9" stroke-linejoin="round"/><circle cx="8.5" cy="10.8" r="2.3" fill="none" stroke="#2ba97f" stroke-width="1.9"/></svg>
<div class="t lk" style="letter-spacing:0.14px;left:635px;top:646px">Tyčový materiál</div>
<div class="t td" style="left:832px;top:646px">Hlavní</div>
<div class="t td" style="left:1395px;top:646px">kg</div>
<div class="t td" style="right:813.2px;top:646px">444,1528</div>
<div class="t td" style="right:690.2px;top:646px">450</div>
<div class="t td" style="right:558.2px;top:646px">450</div>
<div class="t td" style="right:445.20000000000005px;top:646px">5,8472</div>
<div class="t td" style="right:338.1999999999998px;top:646px">6,3472</div>
<div class="t td" style="right:224.19999999999982px;top:646px">0</div>
<div class="t td" style="right:89.19999999999982px;top:646px">0</div>
<svg style="left:2337px;top:646px" width="17" height="17" viewBox="0 0 17 17"><path d="M1 2.5A1.5 1.5 0 0 1 2.5 1H12L16 5V14.5A1.5 1.5 0 0 1 14.5 16H2.5A1.5 1.5 0 0 1 1 14.5Z M4.6 1V5.6H11.2V1" fill="none" stroke="#2ba97f" stroke-width="1.9" stroke-linejoin="round"/><circle cx="8.5" cy="10.8" r="2.3" fill="none" stroke="#2ba97f" stroke-width="1.9"/></svg>
<div class="t lk" style="letter-spacing:0.14px;left:635px;top:682px">Tyčový materiál</div>
<div class="t td" style="left:832px;top:682px">Hlavní</div>
<div class="t td" style="left:921px;top:682px">1A1</div>
<div class="t td" style="left:1395px;top:682px">kg</div>
<div class="t td" style="right:813.2px;top:682px">0,5</div>
<div class="t td" style="right:690.2px;top:682px">1</div>
<div class="t td" style="right:558.2px;top:682px">1</div>
<div class="t td" style="right:445.20000000000005px;top:682px">0,5</div>
<div class="t td" style="right:338.1999999999998px;top:682px">6,3472</div>
<div class="t td" style="right:224.19999999999982px;top:682px">0</div>
<div class="t td" style="right:89.19999999999982px;top:682px">0</div>
<svg style="left:2337px;top:682px" width="17" height="17" viewBox="0 0 17 17"><path d="M1 2.5A1.5 1.5 0 0 1 2.5 1H12L16 5V14.5A1.5 1.5 0 0 1 14.5 16H2.5A1.5 1.5 0 0 1 1 14.5Z M4.6 1V5.6H11.2V1" fill="none" stroke="#2ba97f" stroke-width="1.9" stroke-linejoin="round"/><circle cx="8.5" cy="10.8" r="2.3" fill="none" stroke="#2ba97f" stroke-width="1.9"/></svg>
<div class="t lk" style="letter-spacing:0.29px;left:635px;top:718px">Materiál</div>
<div class="t td" style="left:832px;top:718px">Hlavní</div>
<div class="t td" style="left:1395px;top:718px">pc</div>
<div class="t td" style="right:813.2px;top:718px">1</div>
<div class="t td" style="right:690.2px;top:718px">1</div>
<div class="t td" style="right:558.2px;top:718px">1</div>
<div class="t td" style="right:445.20000000000005px;top:718px">0</div>
<div class="t td" style="right:338.1999999999998px;top:718px">-1</div>
<div class="t td" style="right:224.19999999999982px;top:718px">0</div>
<div class="t td" style="right:89.19999999999982px;top:718px">-1</div>
<svg style="left:2337px;top:718px" width="17" height="17" viewBox="0 0 17 17"><path d="M1 2.5A1.5 1.5 0 0 1 2.5 1H12L16 5V14.5A1.5 1.5 0 0 1 14.5 16H2.5A1.5 1.5 0 0 1 1 14.5Z M4.6 1V5.6H11.2V1" fill="none" stroke="#2ba97f" stroke-width="1.9" stroke-linejoin="round"/><circle cx="8.5" cy="10.8" r="2.3" fill="none" stroke="#2ba97f" stroke-width="1.9"/></svg>
<div class="t lk" style="letter-spacing:0.29px;left:635px;top:754px">Materiál</div>
<div class="t td" style="left:832px;top:754px">Hlavní</div>
<div class="t td" style="left:921px;top:754px">1A1</div>
<div class="t td" style="left:1395px;top:754px">pc</div>
<div class="t td" style="right:813.2px;top:754px">2</div>
<div class="t td" style="right:690.2px;top:754px">1</div>
<div class="t td" style="right:558.2px;top:754px">1</div>
<div class="t td" style="right:445.20000000000005px;top:754px">-1</div>
<div class="t td" style="right:338.1999999999998px;top:754px">-1</div>
<div class="t td" style="right:224.19999999999982px;top:754px">-1</div>
<div class="t td" style="right:89.19999999999982px;top:754px">-1</div>
<svg style="left:2337px;top:754px" width="17" height="17" viewBox="0 0 17 17"><path d="M1 2.5A1.5 1.5 0 0 1 2.5 1H12L16 5V14.5A1.5 1.5 0 0 1 14.5 16H2.5A1.5 1.5 0 0 1 1 14.5Z M4.6 1V5.6H11.2V1" fill="none" stroke="#2ba97f" stroke-width="1.9" stroke-linejoin="round"/><circle cx="8.5" cy="10.8" r="2.3" fill="none" stroke="#2ba97f" stroke-width="1.9"/></svg>
<div class="t lk" style="letter-spacing:0.29px;left:635px;top:790px">Materiál</div>
<div class="t td" style="left:832px;top:790px">Hlavní</div>
<div class="t td" style="left:1395px;top:790px">pc</div>
<div class="t td" style="right:813.2px;top:790px">62</div>
<div class="t td" style="right:690.2px;top:790px">80</div>
<div class="t td" style="right:558.2px;top:790px">80</div>
<div class="t td" style="right:445.20000000000005px;top:790px">18</div>
<div class="t td" style="right:338.1999999999998px;top:790px">18</div>
<div class="t td" style="right:224.19999999999982px;top:790px">0</div>
<div class="t td" style="right:89.19999999999982px;top:790px">0</div>
<svg style="left:2337px;top:790px" width="17" height="17" viewBox="0 0 17 17"><path d="M1 2.5A1.5 1.5 0 0 1 2.5 1H12L16 5V14.5A1.5 1.5 0 0 1 14.5 16H2.5A1.5 1.5 0 0 1 1 14.5Z M4.6 1V5.6H11.2V1" fill="none" stroke="#2ba97f" stroke-width="1.9" stroke-linejoin="round"/><circle cx="8.5" cy="10.8" r="2.3" fill="none" stroke="#2ba97f" stroke-width="1.9"/></svg>
<div class="t lk" style="letter-spacing:0.14px;left:635px;top:826px">Polotovar</div>
<div class="t td" style="left:832px;top:826px">Hlavní</div>
<div class="t td" style="right:1271px;top:826px">60</div>
<div class="t td" style="left:1278px;top:826px">60</div>
<div class="t td" style="left:1395px;top:826px">pc</div>
<div class="t td" style="right:813.2px;top:826px">1</div>
<div class="t td" style="right:690.2px;top:826px">1</div>
<div class="t td" style="right:558.2px;top:826px">1</div>
<div class="t td" style="right:445.20000000000005px;top:826px">0</div>
<div class="t td" style="right:338.1999999999998px;top:826px">0</div>
<div class="t td" style="right:224.19999999999982px;top:826px">0</div>
<div class="t td" style="right:89.19999999999982px;top:826px">0</div>
<svg style="left:2337px;top:826px" width="17" height="17" viewBox="0 0 17 17"><path d="M1 2.5A1.5 1.5 0 0 1 2.5 1H12L16 5V14.5A1.5 1.5 0 0 1 14.5 16H2.5A1.5 1.5 0 0 1 1 14.5Z M4.6 1V5.6H11.2V1" fill="none" stroke="#2ba97f" stroke-width="1.9" stroke-linejoin="round"/><circle cx="8.5" cy="10.8" r="2.3" fill="none" stroke="#2ba97f" stroke-width="1.9"/></svg>
<div class="t lk" style="letter-spacing:0.14px;left:635px;top:862px">Polotovar</div>
<div class="t td" style="left:832px;top:862px">Hlavní</div>
<div class="t td" style="right:1271px;top:862px">83</div>
<div class="t td" style="left:1278px;top:862px">32</div>
<div class="t td" style="left:1395px;top:862px">pc</div>
<div class="t td" style="right:813.2px;top:862px">1</div>
<div class="t td" style="right:690.2px;top:862px">1</div>
<div class="t td" style="right:558.2px;top:862px">1</div>
<div class="t td" style="right:445.20000000000005px;top:862px">0</div>
<div class="t td" style="right:338.1999999999998px;top:862px">1</div>
<div class="t td" style="right:224.19999999999982px;top:862px">0</div>
<div class="t td" style="right:89.19999999999982px;top:862px">0</div>
<svg style="left:2337px;top:862px" width="17" height="17" viewBox="0 0 17 17"><path d="M1 2.5A1.5 1.5 0 0 1 2.5 1H12L16 5V14.5A1.5 1.5 0 0 1 14.5 16H2.5A1.5 1.5 0 0 1 1 14.5Z M4.6 1V5.6H11.2V1" fill="none" stroke="#2ba97f" stroke-width="1.9" stroke-linejoin="round"/><circle cx="8.5" cy="10.8" r="2.3" fill="none" stroke="#2ba97f" stroke-width="1.9"/></svg>
<div class="t lk" style="letter-spacing:0.14px;left:635px;top:898px">Polotovar</div>
<div class="t td" style="left:832px;top:898px">Hlavní</div>
<div class="t td" style="right:1271px;top:898px">86</div>
<div class="t td" style="left:1278px;top:898px">4Ř</div>
<div class="t td" style="left:1395px;top:898px">pc</div>
<div class="t td" style="right:813.2px;top:898px">2</div>
<div class="t td" style="right:690.2px;top:898px">3</div>
<div class="t td" style="right:558.2px;top:898px">3</div>
<div class="t td" style="right:445.20000000000005px;top:898px">1</div>
<div class="t td" style="right:338.1999999999998px;top:898px">1</div>
<div class="t td" style="right:224.19999999999982px;top:898px">0</div>
<div class="t td" style="right:89.19999999999982px;top:898px">0</div>
<svg style="left:2337px;top:898px" width="17" height="17" viewBox="0 0 17 17"><path d="M1 2.5A1.5 1.5 0 0 1 2.5 1H12L16 5V14.5A1.5 1.5 0 0 1 14.5 16H2.5A1.5 1.5 0 0 1 1 14.5Z M4.6 1V5.6H11.2V1" fill="none" stroke="#2ba97f" stroke-width="1.9" stroke-linejoin="round"/><circle cx="8.5" cy="10.8" r="2.3" fill="none" stroke="#2ba97f" stroke-width="1.9"/></svg>
<div class="t lk" style="letter-spacing:0.29px;left:635px;top:934px">Materiál</div>
<div class="t td" style="left:832px;top:934px">Hlavní</div>
<div class="t td" style="left:1395px;top:934px">pc</div>
<div class="t td" style="right:813.2px;top:934px">2</div>
<div class="t td" style="right:690.2px;top:934px">2</div>
<div class="t td" style="right:558.2px;top:934px">2</div>
<div class="t td" style="right:445.20000000000005px;top:934px">0</div>
<div class="t td" style="right:338.1999999999998px;top:934px">0</div>
<div class="t td" style="right:224.19999999999982px;top:934px">0</div>
<div class="t td" style="right:89.19999999999982px;top:934px">0</div>
<svg style="left:2337px;top:934px" width="17" height="17" viewBox="0 0 17 17"><path d="M1 2.5A1.5 1.5 0 0 1 2.5 1H12L16 5V14.5A1.5 1.5 0 0 1 14.5 16H2.5A1.5 1.5 0 0 1 1 14.5Z M4.6 1V5.6H11.2V1" fill="none" stroke="#2ba97f" stroke-width="1.9" stroke-linejoin="round"/><circle cx="8.5" cy="10.8" r="2.3" fill="none" stroke="#2ba97f" stroke-width="1.9"/></svg>
<div class="t lk" style="letter-spacing:0.14px;left:635px;top:970px">Polotovar</div>
<div class="t td" style="left:832px;top:970px">Hlavní</div>
<div class="t td" style="right:1271px;top:970px">116</div>
<div class="t td" style="left:1278px;top:970px">116</div>
<div class="t td" style="left:1395px;top:970px">pc</div>
<div class="t td" style="right:813.2px;top:970px">6</div>
<div class="t td" style="right:690.2px;top:970px">6</div>
<div class="t td" style="right:558.2px;top:970px">6</div>
<div class="t td" style="right:445.20000000000005px;top:970px">0</div>
<div class="t td" style="right:338.1999999999998px;top:970px">0</div>
<div class="t td" style="right:224.19999999999982px;top:970px">0</div>
<div class="t td" style="right:89.19999999999982px;top:970px">0</div>
<svg style="left:2337px;top:970px" width="17" height="17" viewBox="0 0 17 17"><path d="M1 2.5A1.5 1.5 0 0 1 2.5 1H12L16 5V14.5A1.5 1.5 0 0 1 14.5 16H2.5A1.5 1.5 0 0 1 1 14.5Z M4.6 1V5.6H11.2V1" fill="none" stroke="#2ba97f" stroke-width="1.9" stroke-linejoin="round"/><circle cx="8.5" cy="10.8" r="2.3" fill="none" stroke="#2ba97f" stroke-width="1.9"/></svg>
<div class="t lk" style="letter-spacing:0.18px;left:635px;top:1006px">polotovar alt. jednotka</div>
<div class="t td" style="left:832px;top:1006px">Hlavní</div>
<div class="t td" style="left:1395px;top:1006px">pc</div>
<div class="t td" style="right:813.2px;top:1006px">2</div>
<div class="t td" style="right:690.2px;top:1006px">2</div>
<div class="t td" style="right:558.2px;top:1006px">2</div>
<div class="t td" style="right:445.20000000000005px;top:1006px">0</div>
<div class="t td" style="right:338.1999999999998px;top:1006px">0</div>
<div class="t td" style="right:224.19999999999982px;top:1006px">0</div>
<div class="t td" style="right:89.19999999999982px;top:1006px">0</div>
<svg style="left:2337px;top:1006px" width="17" height="17" viewBox="0 0 17 17"><path d="M1 2.5A1.5 1.5 0 0 1 2.5 1H12L16 5V14.5A1.5 1.5 0 0 1 14.5 16H2.5A1.5 1.5 0 0 1 1 14.5Z M4.6 1V5.6H11.2V1" fill="none" stroke="#2ba97f" stroke-width="1.9" stroke-linejoin="round"/><circle cx="8.5" cy="10.8" r="2.3" fill="none" stroke="#2ba97f" stroke-width="1.9"/></svg>
<div class="t lk" style="letter-spacing:0.15px;left:635px;top:1042px">Kontrolovaný materiál</div>
<div class="t td" style="left:832px;top:1042px">Hlavní</div>
<div class="t td" style="right:1271px;top:1042px">149</div>
<div class="t td" style="left:1278px;top:1042px">143</div>
<div class="t td" style="left:1395px;top:1042px">pc</div>
<div class="t td" style="right:813.2px;top:1042px">9</div>
<div class="t td" style="right:690.2px;top:1042px">8</div>
<div class="t td" style="right:558.2px;top:1042px">8</div>
<div class="t td" style="right:445.20000000000005px;top:1042px">-1</div>
<div class="t td" style="right:338.1999999999998px;top:1042px">-6</div>
<div class="t td" style="right:224.19999999999982px;top:1042px">-10</div>
<div class="t td" style="right:89.19999999999982px;top:1042px">-60</div>
<svg style="left:2337px;top:1042px" width="17" height="17" viewBox="0 0 17 17"><path d="M1 2.5A1.5 1.5 0 0 1 2.5 1H12L16 5V14.5A1.5 1.5 0 0 1 14.5 16H2.5A1.5 1.5 0 0 1 1 14.5Z M4.6 1V5.6H11.2V1" fill="none" stroke="#2ba97f" stroke-width="1.9" stroke-linejoin="round"/><circle cx="8.5" cy="10.8" r="2.3" fill="none" stroke="#2ba97f" stroke-width="1.9"/></svg>
<div class="t lk" style="letter-spacing:0.15px;left:635px;top:1079px">Kontrolovaný materiál</div>
<div class="t td" style="left:832px;top:1079px">Hlavní</div>
<div class="t td" style="left:921px;top:1079px">1A1</div>
<div class="t td" style="left:1395px;top:1079px">pc</div>
<div class="t td" style="right:813.2px;top:1079px">17 495</div>
<div class="t td" style="right:690.2px;top:1079px">17 490</div>
<div class="t td" style="right:558.2px;top:1079px">17 490</div>
<div class="t td" style="right:445.20000000000005px;top:1079px">-5</div>
<div class="t td" style="right:338.1999999999998px;top:1079px">-6</div>
<div class="t td" style="right:224.19999999999982px;top:1079px">-50</div>
<div class="t td" style="right:89.19999999999982px;top:1079px">-60</div>
<svg style="left:2337px;top:1079px" width="17" height="17" viewBox="0 0 17 17"><path d="M1 2.5A1.5 1.5 0 0 1 2.5 1H12L16 5V14.5A1.5 1.5 0 0 1 14.5 16H2.5A1.5 1.5 0 0 1 1 14.5Z M4.6 1V5.6H11.2V1" fill="none" stroke="#2ba97f" stroke-width="1.9" stroke-linejoin="round"/><circle cx="8.5" cy="10.8" r="2.3" fill="none" stroke="#2ba97f" stroke-width="1.9"/></svg>
<div class="a" id="sb">
<svg style="left:14px;top:15px" width="36" height="26" viewBox="0 0 36 26"><path fill="#1ba4ea" d="M3.6 1.1H9.1V14C9.1 17.5 10 20 12.8 20C15.6 20 16.5 17.5 16.5 14V8.6H21.5V14C21.5 17.5 22.5 19.1 25.5 19.1H35.3V24.7H25C22.5 24.7 20.5 24 19 22.3C17.5 24 15.3 24.9 12.8 24.9C10.3 24.9 8.3 24 6.8 22.3C5.5 23.8 3.8 24.7 1.5 24.7H0V19.3C2.5 19.1 3.6 17.5 3.6 14Z"/></svg>
<div class="t" style="letter-spacing:0.14px;left:54.5px;top:21px;font-size:22px;font-weight:700;color:#fff;-webkit-text-stroke:1.1px #fff">FACTORIFY</div>
<div class="a" style="left:193px;top:22.5px;width:19.5px;height:2.6px;background:#747789"></div>
<div class="a" style="left:193px;top:29.4px;width:19.5px;height:2.6px;background:#747789"></div>
<div class="a" style="left:193px;top:36.3px;width:19.5px;height:2.6px;background:#747789"></div>
<div class="a" style="left:220px;top:62px;width:5px;height:256px;background:#5a6378"></div>
<svg style="left:13px;top:71px" width="20" height="20" viewBox="0 0 20 20"><path class="ic" d="M2.2 4.5V15.4H18.5"/><path class="ic" d="M5 12.8L7.3 6.8L10 9.6L13 6.2L15.8 12.8Z"/></svg>
<div class="t si" style="letter-spacing:0.10px;top:74px">Denní report</div>
<svg style="left:13px;top:107px" width="20" height="20" viewBox="0 0 20 20"><path class="ic" d="M1.8 12.6A8.4 8.4 0 0 1 18.6 12.6V14.6Q18.6 16.2 17 16.2H3.4Q1.8 16.2 1.8 14.6Z"/><path d="M12.4 6.2L11.3 13.2H8.2Z" fill="#9b9dab"/></svg>
<div class="t si" style="letter-spacing:0.23px;top:110px">Nástěnka</div>
<svg style="left:13px;top:143px" width="20" height="20" viewBox="0 0 20 20"><path class="ic" d="M2.2 4.5V15.4H18.5"/><path class="ic" stroke-width="1.9" stroke-linecap="butt" d="M5.4 13V11.3M8.4 13V7M11.4 13V9M14.4 13V6.2"/></svg>
<div class="t si" style="letter-spacing:0.14px;top:146px">Reporty</div>
<svg style="left:13px;top:179px" width="20" height="20" viewBox="0 0 20 20"><rect class="ic" x="2.3" y="2.3" width="15.4" height="15.4" rx="0.6"/><rect x="5" y="5" width="5" height="5" fill="#9b9dab"/><rect x="10" y="10" width="5" height="5" fill="#9b9dab"/></svg>
<div class="t si" style="letter-spacing:0.21px;top:182px">Workspace</div>
<div class="t sh" style="letter-spacing:-0.57px;top:223px">PRODEJ</div>
<svg style="left:13px;top:260px" width="20" height="20" viewBox="0 0 20 20"><rect class="ic" x="3.5" y="2.7" width="13" height="14.6" rx="0.6"/><path class="ic" stroke-width="1.6" stroke-linecap="butt" d="M6 6H7.4M9 6H14M9 10H14M6 13.8H7.4M9 13.8H14"/><path class="ic" stroke-width="1.1" d="M5.8 10L6.6 10.8L8 9.2"/></svg>
<div class="t si" style="letter-spacing:0.16px;top:263px">Dodací listy</div>
<svg style="left:13px;top:296px" width="20" height="20" viewBox="0 0 20 20"><path class="ic" stroke-width="1.4" d="M6.8 3.2C3.7 3.2 1.4 5 1.4 7.4C1.4 8.6 2 9.6 2.9 10.4L1.6 12.9L5.2 11.5C5.7 11.6 6.2 11.7 6.8 11.7C9.9 11.7 12.2 9.8 12.2 7.4C12.2 5 9.9 3.2 6.8 3.2Z"/><path class="ic" stroke-width="1.4" d="M13.6 6.6C16.4 7 18.4 8.8 18.4 11C18.4 12.2 17.8 13.2 16.9 14L18.2 16.5L14.6 15.1C14.1 15.2 13.6 15.3 13 15.3C11 15.3 9.3 14.5 8.4 13.3"/><path class="ic" stroke-width="1" d="M6.8 4.9V9.9M8.1 6H6.2A0.7 0.7 0 0 0 6.2 7.4H7.4A0.7 0.7 0 0 1 7.4 8.8H5.5"/></svg>
<div class="t si" style="letter-spacing:0.13px;top:299px">Nabídky</div>
<svg style="left:13px;top:332px" width="20" height="20" viewBox="0 0 20 20"><path class="ic" d="M4.6 2.6H15.6V10H4.6Z"/><path class="ic" stroke-width="1.3" d="M7.8 2.6V5.2L10.1 4.3L12.4 5.2V2.6"/><path class="ic" stroke-linecap="butt" d="M-0.2 12.8H20.4M-0.2 17.1H20.4"/><path class="ic" stroke-width="1.7" stroke-linecap="butt" d="M1.8 12.8V17.1M18.4 12.8V17.1M4.6 15H5.8M8.5 15H11.7M14.4 15H15.6"/></svg>
<div class="t si" style="letter-spacing:0.18px;top:335px">Palety</div>
<svg style="left:13px;top:368px" width="20" height="20" viewBox="0 0 20 20"><rect class="ic" x="3.5" y="4" width="13" height="13.3" rx="1.2"/><path class="ic" stroke-width="1.9" stroke-linecap="butt" d="M7 1.9V4.6M13 1.9V4.6"/><path class="ic" stroke-width="1.9" d="M3.5 6.4H16.5"/><rect x="6.2" y="10" width="3.6" height="3.6" rx="0.5" fill="#9b9dab"/></svg>
<div class="t si" style="letter-spacing:0.10px;top:371px">Plán expedice</div>
<svg style="left:13px;top:404px" width="20" height="20" viewBox="0 0 20 20"><path class="ic" d="M6.4 6.9H0.4V17.1H19.6V6.9H13.8"/><path d="M6 3.6L7.7 1.9L17.3 12L17.6 14.6L14.9 13.8Z" fill="#9b9dab"/><path class="ic" stroke-width="1.1" d="M4.4 9.4V15.4M5.8 10.7H3.8A0.8 0.8 0 0 0 3.8 12.4H5A0.8 0.8 0 0 1 5 14.1H3"/><path class="ic" stroke-width="1.4" stroke-linecap="butt" d="M7.6 14.2H12.6"/></svg>
<div class="t si" style="letter-spacing:0.05px;top:407px">Prodejní ceníky</div>
<svg style="left:13px;top:440px" width="20" height="20" viewBox="0 0 20 20"><path class="ic" d="M4.5 2.7H12L15.6 6.3V17.3H4.5Z"/><path class="ic" stroke-width="1.2" d="M11.4 3V6.9H15.2"/><rect x="6.8" y="4.6" width="1.9" height="3.6" fill="#9b9dab"/><path class="ic" stroke-width="1.1" d="M10 9.3V15.6M11.4 10.6H9.3A0.9 0.9 0 0 0 9.3 12.4H10.7A0.9 0.9 0 0 1 10.7 14.2H8.6"/></svg>
<div class="t si" style="letter-spacing:0.11px;top:443px">Prodejní objednávky</div>
<svg style="left:13px;top:476px" width="20" height="20" viewBox="0 0 20 20"><path class="ic" d="M0.8 2.4H4.2L6.6 13.2H17.2"/><path class="ic" d="M4.8 4.4H18.8L17.4 10.6H6"/><circle class="ic" cx="7" cy="16.2" r="1.4"/><circle class="ic" cx="15" cy="16.2" r="1.4"/></svg>
<div class="t si" style="letter-spacing:0.01px;top:479px">Rámcové prodejní objed...</div>
<div class="t sh" style="letter-spacing:-0.16px;top:520px">NÁKUP</div>
<svg style="left:13px;top:557px" width="20" height="20" viewBox="0 0 20 20"><path class="ic" d="M6.4 6.9H0.4V17.1H19.6V6.9H13.8"/><path d="M6 3.6L7.7 1.9L17.3 12L17.6 14.6L14.9 13.8Z" fill="#9b9dab"/><path class="ic" stroke-width="1.1" d="M4.4 9.4V15.4M5.8 10.7H3.8A0.8 0.8 0 0 0 3.8 12.4H5A0.8 0.8 0 0 1 5 14.1H3"/><path class="ic" stroke-width="1.4" stroke-linecap="butt" d="M7.6 14.2H12.6"/></svg>
<div class="t si" style="letter-spacing:0.08px;top:560px">Nákupní ceníky</div>
<svg style="left:13px;top:593px" width="20" height="20" viewBox="0 0 20 20"><path class="ic" d="M4.5 2.7H12L15.6 6.3V17.3H4.5Z"/><path class="ic" stroke-width="1.2" d="M11.4 3V6.9H15.2"/><rect x="6.8" y="4.6" width="1.9" height="3.6" fill="#9b9dab"/><path class="ic" stroke-width="1.1" d="M10 9.3V15.6M11.4 10.6H9.3A0.9 0.9 0 0 0 9.3 12.4H10.7A0.9 0.9 0 0 1 10.7 14.2H8.6"/></svg>
<div class="t si" style="letter-spacing:0.13px;top:596px">Nákupní objednávky</div>
<svg style="left:13px;top:629px" width="20" height="20" viewBox="0 0 20 20"><path class="ic" d="M0.8 2.4H4.2L6.6 13.2H17.2"/><path class="ic" d="M4.8 4.4H18.8L17.4 10.6H6"/><circle class="ic" cx="7" cy="16.2" r="1.4"/><circle class="ic" cx="15" cy="16.2" r="1.4"/></svg>
<div class="t si" style="letter-spacing:0.00px;top:632px">Rámcové nákupní objed...</div>
<svg style="left:13px;top:665px" width="20" height="20" viewBox="0 0 20 20"><path class="ic" d="M4.5 2.7H12L15.6 6.3V17.3H4.5Z"/><path class="ic" stroke-width="1.2" d="M11.4 3V6.9H15.2"/><rect x="6.8" y="4.6" width="1.9" height="3.6" fill="#9b9dab"/><path class="ic" stroke-width="1.1" d="M10 9.3V15.6M11.4 10.6H9.3A0.9 0.9 0 0 0 9.3 12.4H10.7A0.9 0.9 0 0 1 10.7 14.2H8.6"/></svg>
<div class="t si" style="letter-spacing:0.17px;top:668px">Textové objednávky</div>
<svg style="left:13px;top:701px" width="20" height="20" viewBox="0 0 20 20"><path class="ic" d="M2.4 4.3V15.4H18.2"/><path class="ic" d="M5.6 11.6L8.4 8.8L11 11.2L15 7"/><path d="M13 5.2H17.4V9.6Z" fill="#9b9dab"/></svg>
<div class="t si" style="letter-spacing:0.12px;top:704px">Výhled nákupů</div>
<div class="t sh" style="letter-spacing:-0.60px;top:745px">KOOPERACE</div>
<svg style="left:13px;top:782px" width="20" height="20" viewBox="0 0 20 20"><circle class="ic" cx="5.2" cy="10" r="2.2"/><circle class="ic" cx="14" cy="5" r="2.2"/><circle class="ic" cx="14" cy="15" r="2.2"/><path class="ic" d="M7.2 8.9L12 6.1M7.2 11.1L12 13.9"/></svg>
<div class="t si" style="letter-spacing:0.06px;top:785px">Kooperační ceníky</div>
<svg style="left:13px;top:818px" width="20" height="20" viewBox="0 0 20 20"><path class="ic" d="M4.5 2.7H12L15.6 6.3V17.3H4.5Z"/><path class="ic" stroke-width="1.2" d="M11.4 3V6.9H15.2"/><rect x="6.8" y="4.6" width="1.9" height="3.6" fill="#9b9dab"/><path class="ic" stroke-width="1.1" d="M10 9.3V15.6M11.4 10.6H9.3A0.9 0.9 0 0 0 9.3 12.4H10.7A0.9 0.9 0 0 1 10.7 14.2H8.6"/></svg>
<div class="t si" style="letter-spacing:0.12px;top:821px">Kooperační objednávky</div>
<svg style="left:13px;top:854px" width="20" height="20" viewBox="0 0 20 20"><path class="ic" stroke-width="1.9" stroke-linecap="butt" d="M8.3 5H18.4M8.3 10H18.4M8.3 15H18.4"/><path class="ic" stroke-width="1.5" d="M2.4 5L3.8 6.4L6.2 3.4M2.4 10L3.8 11.4L6.2 8.4"/><circle cx="4.2" cy="15" r="1.4" fill="#9b9dab"/></svg>
<div class="t si" style="letter-spacing:0.12px;top:857px">Kooperační plán</div>
<svg style="left:13px;top:890px" width="20" height="20" viewBox="0 0 20 20"><path class="ic" d="M4.5 2.7H12L15.6 6.3V17.3H4.5Z"/><path class="ic" stroke-width="1.2" d="M11.4 3V6.9H15.2"/><rect x="6.8" y="4.6" width="1.9" height="3.6" fill="#9b9dab"/><path class="ic" stroke-width="1.1" d="M10 9.3V15.6M11.4 10.6H9.3A0.9 0.9 0 0 0 9.3 12.4H10.7A0.9 0.9 0 0 1 10.7 14.2H8.6"/></svg>
<div class="t si" style="letter-spacing:0.04px;top:893px">Naplánované kooperačn...</div>
<div class="t sh" style="letter-spacing:-0.30px;top:934px">CRM</div>
<svg style="left:13px;top:971px" width="20" height="20" viewBox="0 0 20 20"><rect class="ic" x="1.4" y="3.8" width="17.2" height="12.6" rx="0.6"/><circle cx="7.2" cy="8.2" r="2.1" fill="#9b9dab"/><path d="M3.8 13.6C3.8 10.8 10.6 10.8 10.6 13.6Z" fill="#9b9dab"/><path class="ic" stroke-width="1.1" stroke-linecap="butt" d="M12.2 7.6H16.2M12.2 9.6H16.2M12.2 11.6H16.2"/></svg>
<div class="t si" style="letter-spacing:0.19px;top:974px">Adresy</div>
<svg style="left:13px;top:1007px" width="20" height="20" viewBox="0 0 20 20"><circle class="ic" cx="10" cy="6.4" r="3.7"/><path class="ic" d="M3.6 17C2.2 12.6 6.5 12.4 7.6 12.6Q10 13.4 12.4 12.6C13.5 12.4 17.8 12.6 16.4 17Z"/></svg>
<div class="t si" style="letter-spacing:0.31px;top:1010px">Historie komunikace</div>
<svg style="left:13px;top:1043px" width="20" height="20" viewBox="0 0 20 20"><path class="ic" d="M2.4 8.6L4.6 2.9H15.4L17.6 8.6V17.1H2.4Z"/><path class="ic" d="M2.4 8.6H17.6M10 2.9V8.6"/></svg>
<div class="t si" style="letter-spacing:0.19px;top:1046px">Hodnocení dodavatelů</div>
<svg style="left:13px;top:1079px" width="20" height="20" viewBox="0 0 20 20"><circle class="ic" cx="10" cy="6.4" r="3.7"/><path class="ic" d="M3.6 17C2.2 12.6 6.5 12.4 7.6 12.6Q10 13.4 12.4 12.6C13.5 12.4 17.8 12.6 16.4 17Z"/></svg>
<div class="t si" style="letter-spacing:0.21px;top:1082px">Lidé</div>
<svg style="left:13px;top:1115px" width="20" height="20" viewBox="0 0 20 20"><path d="M-0.6 5.6H2.6V13.6H-0.6ZM17.4 5.6H20.6V13.6H17.4Z" fill="#9b9dab"/><path class="ic" stroke-width="1.4" d="M2.6 6.4L6.2 4.3H9L10.4 5.2L12 4.3H14.4L17.4 6.4M2.6 12.4H4L7.2 15.2Q9 16.2 10.8 15L14.6 12.4H17.4M7.8 5.2L6.4 8Q7.4 9.2 8.8 8.2L10.2 7.2L14.8 11.6"/></svg>
<div class="t si" style="letter-spacing:0.21px;top:1118px">Obchodní příležitosti</div>
<svg style="left:13px;top:1151px" width="20" height="20" viewBox="0 0 20 20"><rect class="ic" x="2.5" y="4.6" width="15" height="10.6" rx="0.6"/><path class="ic" d="M3 6.4L10 11.4L17 6.4"/></svg>
<div class="t si" style="letter-spacing:0.21px;top:1154px">Přijaté emaily</div>
<svg style="left:13px;top:1187px" width="20" height="20" viewBox="0 0 20 20"><path class="ic" d="M0.6 17.6V5.2H7.6V2.9H14.8V8.6H19.4V17.6"/><path class="ic" stroke-linecap="butt" d="M3 5V2.9M5.4 5V2.9"/><rect x="2.60" y="7.60" width="1.6" height="1.6" fill="#9b9dab"/><rect x="2.60" y="10.60" width="1.6" height="1.6" fill="#9b9dab"/><rect x="2.60" y="13.60" width="1.6" height="1.6" fill="#9b9dab"/><rect x="5.40" y="7.60" width="1.6" height="1.6" fill="#9b9dab"/><rect x="5.40" y="10.60" width="1.6" height="1.6" fill="#9b9dab"/><rect x="5.40" y="13.60" width="1.6" height="1.6" fill="#9b9dab"/><rect x="10.35" y="4.95" width="1.7" height="1.7" fill="#9b9dab"/><rect x="10.35" y="7.75" width="1.7" height="1.7" fill="#9b9dab"/><rect x="10.35" y="10.75" width="1.7" height="1.7" fill="#9b9dab"/><rect x="14.75" y="10.75" width="1.7" height="1.7" fill="#9b9dab"/><rect x="14.75" y="13.75" width="1.7" height="1.7" fill="#9b9dab"/></svg>
<div class="t si" style="letter-spacing:0.20px;top:1190px">Skupiny společností</div>
<svg style="left:13px;top:1223px" width="20" height="20" viewBox="0 0 20 20"><path class="ic" d="M4.5 17V2.9H15.5V17"/><path class="ic" stroke-linecap="butt" d="M2.6 17.3H17.4"/><rect x="7.10" y="5.30" width="1.8" height="1.8" fill="#9b9dab"/><rect x="7.10" y="8.30" width="1.8" height="1.8" fill="#9b9dab"/><rect x="7.10" y="11.30" width="1.8" height="1.8" fill="#9b9dab"/><rect x="11.10" y="5.30" width="1.8" height="1.8" fill="#9b9dab"/><rect x="11.10" y="8.30" width="1.8" height="1.8" fill="#9b9dab"/><rect x="11.10" y="11.30" width="1.8" height="1.8" fill="#9b9dab"/><rect x="9" y="14.4" width="2" height="2.6" fill="#9b9dab"/></svg>
<div class="t si" style="letter-spacing:0.30px;top:1226px">Společnosti</div>
<svg style="left:13px;top:1259px" width="20" height="20" viewBox="0 0 20 20"><path class="ic" d="M4.5 17V2.9H15.5V17"/><path class="ic" stroke-linecap="butt" d="M2.6 17.3H17.4"/><rect x="7.10" y="5.30" width="1.8" height="1.8" fill="#9b9dab"/><rect x="7.10" y="8.30" width="1.8" height="1.8" fill="#9b9dab"/><rect x="7.10" y="11.30" width="1.8" height="1.8" fill="#9b9dab"/><rect x="11.10" y="5.30" width="1.8" height="1.8" fill="#9b9dab"/><rect x="11.10" y="8.30" width="1.8" height="1.8" fill="#9b9dab"/><rect x="11.10" y="11.30" width="1.8" height="1.8" fill="#9b9dab"/><rect x="9" y="14.4" width="2" height="2.6" fill="#9b9dab"/></svg>
<div class="t si" style="letter-spacing:0.25px;top:1262px">Výpadky společnosti</div>
<div class="t sh" style="letter-spacing:-0.19px;top:1303px">DOCHÁZKA</div>
<svg style="left:13px;top:1340px" width="20" height="20" viewBox="0 0 20 20"><rect class="ic" x="3.5" y="4" width="13" height="13.3" rx="1.2"/><path class="ic" stroke-width="1.9" stroke-linecap="butt" d="M7 1.9V4.6M13 1.9V4.6"/><path class="ic" stroke-width="1.9" d="M3.5 6.4H16.5"/></svg>
<div class="t si" style="letter-spacing:0.08px;top:1343px">Denní plán směn</div>
</div>
<div class="a" id="top"></div>
<svg style="left:254.6px;top:21.3px" width="22" height="19" viewBox="0 0 23 20"><rect x="1" y="1" width="21" height="18" rx="2" fill="none" stroke="#6a72c4" stroke-width="1.9"/><path d="M1 7H22M1 13H22M7.5 1V19" stroke="#6a72c4" stroke-width="1.9" fill="none"/></svg>
<div class="t" style="letter-spacing:0.06px;left:288px;top:21px;font-size:20px;color:#1f1f27;-webkit-text-stroke:0.5px #1f1f27">Inventura: 1 Inventura 2025 - Hlavní sklad</div>
<svg style="left:1633px;top:20px" width="21" height="21" viewBox="0 0 21 21"><circle cx="10.5" cy="10.5" r="8.8" fill="none" stroke="#2fae84" stroke-width="2.15"/><path d="M6.4 10.9L9.3 13.7L14.6 8" fill="none" stroke="#2fae84" stroke-width="2.3" stroke-linecap="round" stroke-linejoin="round"/></svg>
<div class="t tt" style="letter-spacing:0.38px;left:1666px;top:24.6px">08:23</div>
<svg style="left:1721px;top:20px" width="22" height="22" viewBox="0 0 22 22"><path class="ti" stroke-width="2.35" d="M20.00 11.00A3.7 3.7 0 0 1 17.36 17.36A3.7 3.7 0 0 1 11.00 20.00A3.7 3.7 0 0 1 4.64 17.36A3.7 3.7 0 0 1 2.00 11.00A3.7 3.7 0 0 1 4.64 4.64A3.7 3.7 0 0 1 11.00 2.00A3.7 3.7 0 0 1 17.36 4.64A3.7 3.7 0 0 1 20.00 11.00Z"/><path class="ti" stroke-width="1.8" d="M11 5.6V16.4M13.4 8.4H9.9A1.4 1.4 0 0 0 9.9 11H12.1A1.4 1.4 0 0 1 12.1 13.7H8.5"/></svg>
<div class="t tt" style="letter-spacing:0.34px;left:1754px;top:24.6px">Výchozí</div>
<svg style="left:1826px;top:22px" width="16" height="18" viewBox="0 0 16 18"><circle class="ti" cx="8" cy="5" r="3.6"/><path class="ti" d="M1.5 15.6C1.5 10 14.5 10 14.5 15.6Q14.5 16.5 13.6 16.5H2.4Q1.5 16.5 1.5 15.6Z"/></svg>
<div class="t tt" style="letter-spacing:0.37px;left:1857px;top:24.6px">Stanislav Dulina</div>
<svg style="left:1978px;top:20px" width="22" height="22" viewBox="0 0 22 22"><circle class="ti" cx="11" cy="11" r="9.6"/><ellipse class="ti" cx="11" cy="11" rx="4.2" ry="9.6"/><path class="ti" d="M2 7.8H20M2 14.2H20"/></svg>
<div class="t tt" style="letter-spacing:0.34px;left:2012px;top:24.6px">Čeština</div>
<svg style="left:2079.6px;top:20.8px" width="21" height="21" viewBox="0 0 22 22"><path class="ti" d="M14.6 0.9A10.4 10.4 0 1 0 20.2 16.2A8.2 8.2 0 0 1 14.6 0.9Z"/></svg>
<svg style="left:2123px;top:20px" width="23" height="22" viewBox="0 0 23 22"><path class="ti" d="M11.5 0.6V2M11.5 15.4V21"/><path class="ti" d="M3.4 2.2H17.6L20.8 5L17.6 7.8H3.4Z"/><path class="ti" d="M19.6 10H5.4L2.2 12.7L5.4 15.4H19.6Z"/></svg>
<svg style="left:2168px;top:20px" width="23" height="22" viewBox="0 0 23 22"><rect class="ti" x="1.5" y="7.2" width="20" height="5.4" rx="0.6"/><path class="ti" d="M3 12.6V19.6Q3 20.6 4 20.6H19Q20 20.6 20 19.6V12.6M11.5 7.2V20.6"/><path class="ti" d="M11.5 7.2C8.4 7.2 6.4 6.2 6.4 4.2C6.4 2.2 8.6 1.6 9.8 3C10.8 4.2 11.3 6 11.5 7.2C11.7 6 12.2 4.2 13.2 3C14.4 1.6 16.6 2.2 16.6 4.2C16.6 6.2 14.6 7.2 11.5 7.2Z"/></svg>
<svg style="left:2214px;top:21px" width="21" height="22" viewBox="0 0 21 22"><path class="ti" d="M10.5 1.8C7 1.8 5.2 4.4 5.2 7.6C5.2 11.6 3.6 13.6 1.8 15.6H19.2C17.4 13.6 15.8 11.6 15.8 7.6C15.8 4.4 14 1.8 10.5 1.8Z"/><path d="M7.8 18.2H13.2A2.7 2.7 0 0 1 7.8 18.2Z" fill="#8e909e"/></svg>
<div class="a" style="left:2225.4px;top:11.2px;width:19.4px;height:19.4px;border-radius:50%;background:#ef4f5f"></div>
<div class="t" style="left:2232.4px;top:16px;font-size:9.8px;font-weight:700;color:#fff">1</div>
<svg style="left:2259px;top:20px" width="22" height="22" viewBox="0 0 22 22"><circle class="ti" cx="11" cy="11" r="9.6"/><path class="ti" stroke-width="2.4" d="M8.2 8.6A2.9 2.9 0 1 1 11 11.4V12.6"/><circle cx="11" cy="16" r="1.5" fill="#8e909e"/></svg>
<svg style="left:2303px;top:20px" width="23" height="23" viewBox="0 0 23 23"><circle class="ti" cx="9" cy="9" r="7.5"/><path class="ti" d="M14.5 14.5L21.5 21.5"/></svg>
<svg style="left:2348px;top:20px" width="23" height="22" viewBox="0 0 23 22"><path class="ti" d="M8 2.5H3.5Q1.5 2.5 1.5 4.5V17.5Q1.5 19.5 3.5 19.5H8"/><path class="ti" d="M8 11H21.5M15.5 4.5L21.8 11L15.5 17.5"/></svg>
<div class="t" style="letter-spacing:0.02px;left:1931px;top:206px;font-size:14px;color:#9496a3;-webkit-text-stroke:0.3px #9496a3">Žádný</div>
<svg style="left:1982px;top:211px" width="10" height="6" viewBox="0 0 10 6"><path d="M0 0H10L5 5.5Z" fill="#8e909e"/></svg>
<svg style="left:2008px;top:201.8px" width="22" height="22" viewBox="0 0 22 22"><path class="ti" stroke-width="2.1" d="M18.64 11.94L20.89 13.03L19.43 16.56L17.07 15.74L15.74 17.07L16.56 19.43L13.03 20.89L11.94 18.64L10.06 18.64L8.97 20.89L5.44 19.43L6.26 17.07L4.93 15.74L2.57 16.56L1.11 13.03L3.36 11.94L3.36 10.06L1.11 8.97L2.57 5.44L4.93 6.26L6.26 4.93L5.44 2.57L8.97 1.11L10.06 3.36L11.94 3.36L13.03 1.11L16.56 2.57L15.74 4.93L17.07 6.26L19.43 5.44L20.89 8.97L18.64 10.06Z"/><circle class="ti" stroke-width="2.1" cx="11" cy="11" r="3.4"/></svg>
<svg style="left:2054.3px;top:201.3px" width="19.4" height="22.3" viewBox="0 0 20 23"><path class="ti" d="M1 4.6H19M6.6 4.4L7.4 2.2Q7.7 1.4 8.5 1.4H11.5Q12.3 1.4 12.6 2.2L13.4 4.4M2.8 4.8L4 20Q4.1 21.4 5.6 21.4H14.4Q15.9 21.4 16 20L17.2 4.8"/><path d="M10 8.4L14 12.8H11.4V17.4H8.6V12.8H6Z" fill="#8e909e"/></svg>
<svg style="left:2098px;top:203px" width="22" height="19" viewBox="0 0 22 19"><rect class="ti" x="1" y="1.5" width="20" height="16.5" rx="1.5"/><path class="ti" stroke-width="2.6" d="M1 2.3H21"/><path class="ti" d="M11 2V18"/></svg>
<svg style="left:2143px;top:202px" width="22" height="22" viewBox="0 0 22 22"><rect class="ti" x="1" y="1" width="20" height="20" rx="1.2"/><rect x="4.5" y="4.5" width="6.5" height="6.5" fill="#8e909e"/><rect x="11" y="11" width="6.5" height="6.5" fill="#8e909e"/></svg>
<svg style="left:2188.3px;top:203.2px" width="21.3" height="19.4" viewBox="0 0 22 20"><path class="ti" d="M2.2 2.2H19.8V17.4H2.2Z"/><rect x="0.5" y="0.5" width="3.4" height="3.4" fill="#fff" stroke="#8e909e" stroke-width="1.2"/><rect x="0.5" y="15.7" width="3.4" height="3.4" fill="#fff" stroke="#8e909e" stroke-width="1.2"/><rect x="18.1" y="0.5" width="3.4" height="3.4" fill="#fff" stroke="#8e909e" stroke-width="1.2"/><rect x="18.1" y="15.7" width="3.4" height="3.4" fill="#fff" stroke="#8e909e" stroke-width="1.2"/><rect class="ti" stroke-width="1.5" x="5.6" y="5.4" width="7" height="6"/><rect class="ti" stroke-width="1.5" x="9.6" y="8.4" width="6.6" height="5.8" fill="#fff"/></svg>
<svg style="left:2233px;top:204px" width="22" height="16" viewBox="0 0 22 16"><path class="ti" d="M1.5 8H20.5M6 3L1.2 8L6 13M16 3L20.8 8L16 13"/></svg>
<svg style="left:2280px;top:202px" width="18" height="21" viewBox="0 0 18 21"><path class="ti" d="M9 1.5V14.5M3.5 9L9 14.8L14.5 9M1 19.5H17"/></svg>
<svg style="left:2327px;top:208px" width="14" height="9" viewBox="0 0 14 9"><path class="ti" stroke-width="2" d="M1 1.5L7 7.5L13 1.5"/></svg>
<div class="a" id="ft"></div>
<svg style="left:248px;top:1306.5px" width="23" height="22" viewBox="0 0 23 22"><path fill="none" stroke="#8e909c" stroke-width="2.1" stroke-linecap="round" stroke-linejoin="round" d="M3.4 8A9.2 9.2 0 1 1 4.6 16.6M12 6V11.5L15.2 13.6"/><path d="M0.6 2.6L6.6 8.4L0.9 9.6Z" fill="#8e909c" stroke="#8e909c" stroke-width="1" stroke-linejoin="round"/></svg>
<svg style="left:288px;top:1303px" width="28" height="24" viewBox="0 0 28 24"><path fill="none" stroke="#8e909c" stroke-width="2.1" stroke-linecap="round" stroke-linejoin="round" d="M12 7.6H1.4V22.4H21.6V17M17.6 4.4A4.9 4.9 0 1 1 21 11.4"/><path d="M17.2 0.8V5H21.6" fill="none" stroke="#8e909c" stroke-width="2.1" stroke-linecap="round" stroke-linejoin="round"/></svg>
<div class="t" style="letter-spacing:-0.02px;left:327px;top:1310px;font-size:16px;color:#8b8d99;-webkit-text-stroke:0.5px #8b8d99">18.11.2025 10:24</div>
<div class="a bt" style="left:545px;width:175px"></div>
<svg style="left:562.7px;top:1310px" width="16" height="16" viewBox="0 0 16 16"><rect class="bi" x="1" y="2.5" width="14" height="11" rx="1.5"/><path class="bi" d="M1.5 5L8 9.5L14.5 5"/></svg>
<div class="t bl" style="letter-spacing:-0.27px;left:585.7px;transform-origin:0 50%;transform:scaleX(0.9)">ODESLAT EMAIL</div>
<div class="a bt" style="left:734px;width:105px"></div>
<svg style="left:751.5px;top:1310px" width="16" height="16" viewBox="0 0 16 16"><path class="bi" d="M14.3 9.2A6.4 6.4 0 1 1 12.4 4"/><path d="M15.4 0.8V6.2H10Z" fill="#5b63b7"/></svg>
<div class="t bl" style="letter-spacing:-1.05px;left:774.5px;transform-origin:0 50%;transform:scaleX(0.9)">RESET</div>
<div class="a bt" style="left:853px;width:223px"></div>
<svg style="left:869.6px;top:1310px" width="16" height="16" viewBox="0 0 16 16"><path class="bi" stroke-width="2" stroke-linecap="butt" d="M8 2.2V13.8M2.2 8H13.8"/></svg>
<div class="t bl" style="letter-spacing:-0.50px;left:889.6px;transform-origin:0 50%;transform:scaleX(0.9)">PŘEPOČÍTAT HODNOTU</div>
<div class="a bt" style="left:1090px;width:287px"></div>
<svg style="left:1107.7px;top:1310px" width="16" height="16" viewBox="0 0 16 16"><path d="M7.9 0.6H10.1V6H13.6L9 11L4.4 6H7.9Z" fill="#5b63b7"/><path class="bi" stroke-width="1.7" d="M5 9.8H2Q0.9 9.8 0.9 11V14.3Q0.9 15.4 2 15.4H16Q17.1 15.4 17.1 14.3V11Q17.1 9.8 16 9.8H13"/><circle cx="14.3" cy="12.7" r="0.9" fill="#5b63b7"/></svg>
<div class="t bl" style="letter-spacing:-0.46px;left:1132.5px;transform-origin:0 50%;transform:scaleX(0.9)">STÁHNOUT INVENTURNÍ EXCEL</div>
<div class="a bt" style="left:1390px;width:369px"></div>
<svg style="left:1408.1000000000001px;top:1310px" width="16" height="16" viewBox="0 0 16 16"><path d="M9 0.4L13.6 5.6H10.1V11.6H7.9V5.6H4.4Z" fill="#5b63b7"/><path class="bi" stroke-width="1.7" d="M5.6 9.8H2Q0.9 9.8 0.9 11V14.3Q0.9 15.4 2 15.4H16Q17.1 15.4 17.1 14.3V11Q17.1 9.8 16 9.8H12.4"/><circle cx="14.3" cy="12.7" r="0.9" fill="#5b63b7"/></svg>
<div class="t bl" style="letter-spacing:-0.28px;left:1432.9px;transform-origin:0 50%;transform:scaleX(0.9)">NAHRÁT INVENTURNÍ ZÁZNAMY Z EXCELU</div>
<div class="a bt" style="left:1773px;width:210px"></div>
<svg style="left:1788.5px;top:1310px" width="16" height="16" viewBox="0 0 16 16"><rect class="bi" x="2" y="1" width="12" height="14.5" rx="1"/><path class="bi" d="M2 5.5H14"/><path class="bi" stroke-width="1.4" stroke-dasharray="1.4 1.6" d="M4.5 8.5H12M4.5 11H12M4.5 13.3H12"/></svg>
<div class="t bl" style="letter-spacing:-0.42px;left:1811.5px;transform-origin:0 50%;transform:scaleX(0.9)">ZPRACOVAT POHYBY</div>
<div class="a bt d" style="left:1996px;width:268px"></div>
<svg style="left:2013.2px;top:1310px" width="16" height="16" viewBox="0 0 16 16"><path class="bi d" stroke-width="2" stroke-linecap="butt" d="M8 2.2V13.8M2.2 8H13.8"/></svg>
<div class="t bl d" style="letter-spacing:-0.51px;left:2033.2px;transform-origin:0 50%;transform:scaleX(0.9)">VYBRAT SKLADOVÉ POLOŽKY</div>
<div class="a bt d" style="left:2278px;width:109px"></div>
<svg style="left:2293.6px;top:1310px" width="16" height="16" viewBox="0 0 16 16"><g><path class="bi d" style="stroke:#c3c4d1" stroke-width="1.7" d="M2.5 3.6A1.2 1.2 0 0 1 3.7 2.4H11L14.3 5.6V13.6A1.2 1.2 0 0 1 13.1 14.8H3.7A1.2 1.2 0 0 1 2.5 13.6Z M5.2 2.4V5.8H10.2V2.4"/><circle class="bi d" style="stroke:#c3c4d1" stroke-width="1.7" cx="8.4" cy="10.4" r="1.8"/></g></svg>
<div class="t bl d" style="letter-spacing:-0.56px;left:2316.6px;transform-origin:0 50%;transform:scaleX(0.9)">ULOŽIT</div>
<div class="a" style="left:2381px;top:62px;width:19px;height:1225px;background:#fafafa"></div>
<div class="a" style="left:2385px;top:490px;width:11px;height:742px;border-radius:5.5px;background:#8b8b8b"></div>
<svg style="left:2384px;top:69px" width="13" height="10" viewBox="0 0 13 10"><path d="M6.5 0.8L12.3 8.2Q12.6 9 11.8 9H1.2Q0.4 9 0.7 8.2Z" fill="#8a8a8a"/></svg>
<svg style="left:2384px;top:1271px" width="13" height="10" viewBox="0 0 13 10"><path d="M6.5 9.2L12.3 1.8Q12.6 1 11.8 1H1.2Q0.4 1 0.7 1.8Z" fill="#858585"/></svg>
<div class="a" style="left:2007px;top:1090px;width:189px;height:189px;border-radius:50%;background:#ff87f7;border:10px solid #ff0fe6"></div>
</div></body></html>
